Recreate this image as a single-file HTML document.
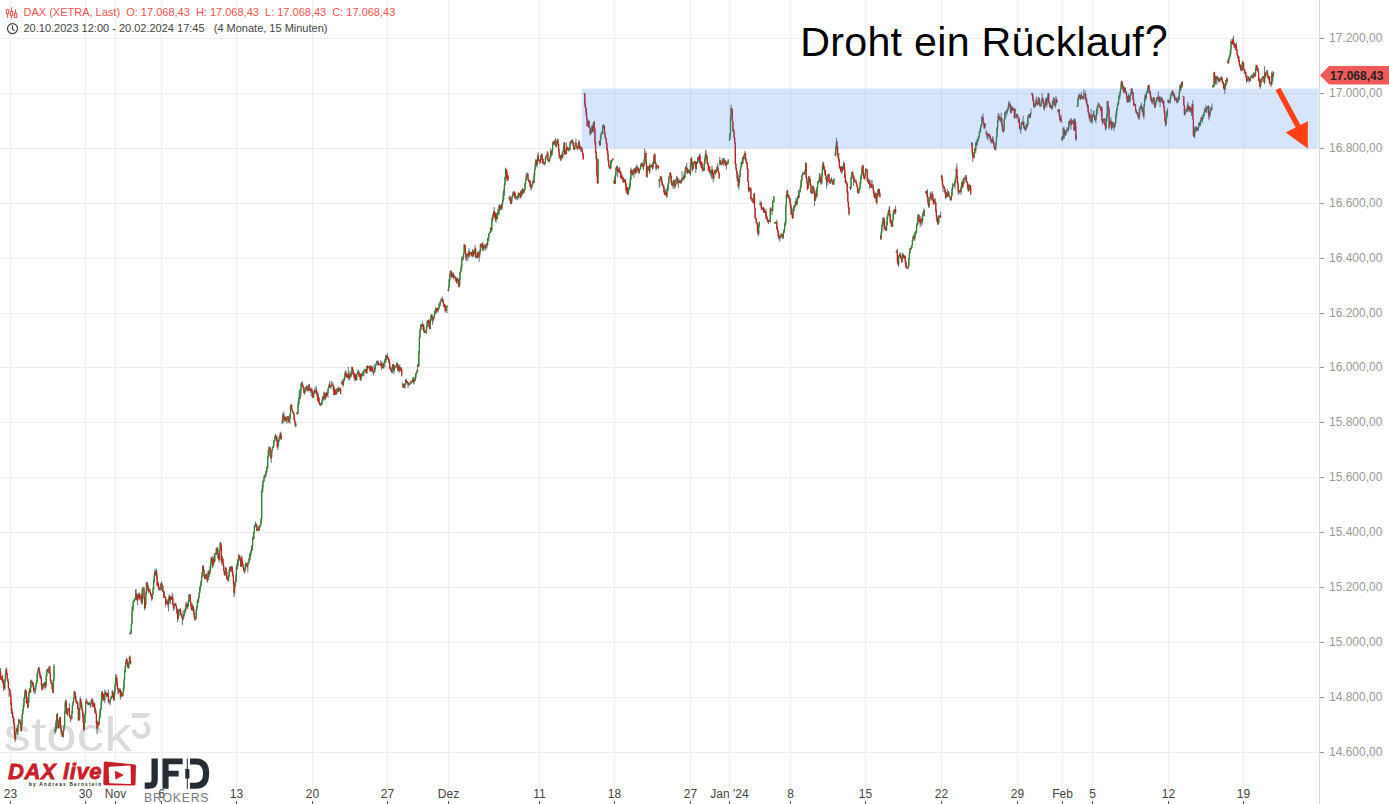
<!DOCTYPE html><html><head><meta charset="utf-8"><style>html,body{margin:0;padding:0;background:#fff;width:1389px;height:804px;overflow:hidden}svg{display:block}text{font-family:"Liberation Sans",sans-serif}</style></head><body><svg width="1389" height="804" viewBox="0 0 1389 804"><path d="M10.5 0V789M85.5 0V789M115.5 0V789M161.5 0V789M236.5 0V789M312.5 0V789M387.5 0V789M448.5 0V789M539.5 0V789M614.5 0V789M690.5 0V789M729.5 0V789M790.5 0V789M865.5 0V789M941.5 0V789M1017.5 0V789M1062.5 0V789M1092.5 0V789M1168.5 0V789M1243.5 0V789M0 38.5H1319M0 93.5H1319M0 148.5H1319M0 203.5H1319M0 258.5H1319M0 313.5H1319M0 367.5H1319M0 422.5H1319M0 477.5H1319M0 532.5H1319M0 587.5H1319M0 642.5H1319M0 697.5H1319M0 752.5H1319" stroke="#eeeeee" stroke-width="1" fill="none"/><text transform="translate(3.6 750.5) scale(1.12 1)" font-size="49" fill="#dadada">stock</text><path d="M131.9 713.1H150.3L146.6 717.9H131.9Z" fill="#dadada"/><path d="M134 729.4A7.1 7.1 0 1 0 144.1 723" stroke="#dadada" stroke-width="4.6" fill="none"/><path d="M0.00 669.9V675.5M0.60 668.1V679.5M1.20 677.8V680.1M1.80 676.2V680.5M2.40 674.8V682.9M3.00 678.6V684.5M3.60 680.3V691.0M4.20 684.9V689.7M4.80 679.3V688.6M5.40 672.9V681.3M6.00 668.6V675.2M6.60 667.5V673.3M7.20 672.7V680.3M7.80 678.1V682.3M8.40 681.2V688.7M9.00 687.8V696.7M9.60 689.1V691.5M10.20 689.8V696.6M10.80 692.9V705.6M11.40 701.7V714.0M12.00 708.1V714.4M12.60 712.3V717.9M13.20 715.7V721.8M13.80 718.2V724.8M14.40 722.3V735.4M15.00 731.8V742.2M15.60 732.6V739.9M16.20 727.7V733.6M16.80 728.2V731.4M17.40 727.8V734.8M18.00 724.4V735.1M18.60 718.8V725.2M19.20 719.1V720.5M19.80 720.1V723.0M20.40 722.2V724.6M21.00 718.7V731.2M21.60 723.6V731.6M22.20 713.8V725.2M22.80 708.9V714.6M23.40 703.2V710.9M24.00 697.6V707.5M24.60 691.4V699.1M25.20 689.7V697.8M25.80 689.0V693.0M26.40 691.0V703.6M27.00 699.9V703.6M27.60 696.9V708.2M28.20 701.7V708.2M28.80 692.2V702.5M29.40 688.4V693.5M30.00 688.0V693.2M30.60 679.7V692.9M31.20 680.4V682.5M31.80 679.5V687.7M32.40 682.4V684.7M33.00 681.9V686.7M33.60 684.8V692.0M34.20 690.9V693.9M34.80 688.1V690.5M35.40 686.4V693.4M36.00 683.1V689.8M36.60 680.1V684.1M37.20 673.4V682.8M37.80 669.8V676.5M38.40 667.0V670.8M39.00 666.6V672.6M39.60 669.6V675.2M40.20 672.7V678.1M40.80 676.6V679.4M41.40 675.5V686.6M42.00 684.8V690.6M42.60 684.0V689.8M43.20 682.9V688.2M43.80 683.6V685.1M44.40 682.0V685.0M45.00 682.3V689.7M45.60 681.3V687.9M46.20 673.8V686.2M46.80 669.1V676.0M47.40 668.9V671.0M48.00 668.4V672.2M48.60 668.2V673.3M49.20 666.2V668.6M49.80 665.8V674.0M50.40 673.1V681.2M51.00 679.7V684.0M51.60 682.8V684.4M52.20 682.1V689.5M52.80 689.0V693.0M53.40 678.5V693.5M54.00 664.2V681.3M55.00 727.4V734.3M55.60 723.3V731.8M56.20 719.5V731.5M56.80 713.9V722.9M57.40 713.0V721.8M58.00 719.3V728.2M58.60 724.8V728.6M59.20 718.9V727.4M59.80 717.0V719.3M60.40 716.6V728.6M61.00 725.3V734.4M61.60 729.3V732.3M62.20 731.0V736.9M62.80 732.8V736.7M63.40 729.0V737.6M64.00 725.1V731.6M64.60 711.1V727.3M65.20 701.2V713.7M65.80 699.0V705.3M66.40 700.8V713.8M67.00 707.7V715.1M67.60 710.0V716.2M68.20 709.6V711.3M68.80 708.1V710.8M69.40 703.4V717.5M70.00 714.9V718.0M70.60 717.5V722.3M71.20 718.7V719.5M71.80 711.1V718.8M72.40 705.1V713.7M73.00 701.3V705.9M73.60 697.8V702.8M74.20 690.8V698.9M74.80 691.2V694.8M75.40 692.3V699.2M76.00 696.1V702.6M76.60 702.1V704.1M77.20 700.5V703.0M77.80 702.3V709.4M78.40 707.5V720.3M79.00 717.8V720.9M79.60 708.2V719.7M80.20 696.4V708.6M80.80 698.6V703.5M81.40 701.6V707.5M82.00 704.5V711.1M82.60 710.2V717.2M83.20 711.4V722.7M83.80 721.7V730.5M84.40 722.5V730.5M85.00 713.4V723.1M85.60 701.2V715.2M86.20 698.6V703.8M86.80 698.9V702.9M87.40 702.3V704.4M88.00 703.3V705.6M88.60 702.3V705.0M89.20 701.7V704.8M89.80 703.3V704.6M90.40 704.4V707.8M91.00 700.2V706.0M91.60 698.4V703.6M92.20 698.5V702.0M92.80 698.8V707.2M93.40 703.3V707.5M94.00 702.9V706.4M94.60 702.6V712.8M95.20 707.8V710.6M95.80 709.7V714.1M96.40 713.2V724.0M97.00 723.3V734.1M97.60 720.4V730.2M98.20 722.4V725.7M98.80 721.6V726.2M99.40 716.1V724.4M100.00 708.6V718.5M100.60 708.3V714.9M101.20 699.3V709.7M101.80 691.1V703.3M102.40 691.1V699.5M103.00 693.1V698.0M103.60 694.0V700.8M104.20 699.3V700.3M104.80 689.5V703.3M105.40 691.5V695.0M106.00 691.4V694.9M106.60 693.6V696.8M107.20 692.5V697.2M107.80 693.0V695.8M108.40 689.5V702.3M109.00 700.2V703.9M109.60 700.3V702.6M110.20 699.2V705.3M110.80 697.7V699.8M111.40 696.1V698.8M112.00 691.1V697.3M112.60 690.1V697.5M113.20 691.8V699.0M113.80 696.5V701.2M114.40 690.7V700.5M115.00 682.5V694.5M115.60 673.9V685.6M116.20 677.0V680.9M116.80 674.5V686.1M117.40 681.4V689.7M118.00 687.0V694.2M118.60 688.5V694.0M119.20 688.5V692.5M119.80 688.3V692.3M120.40 688.7V699.5M121.00 692.4V696.8M121.60 690.8V694.5M122.20 693.7V697.0M122.80 693.0V696.5M123.40 686.4V693.5M124.00 679.3V690.3M124.60 670.3V679.8M125.20 665.4V672.2M125.80 660.6V666.2M126.40 657.7V663.7M127.00 659.0V664.4M127.60 662.2V667.5M128.20 664.5V668.8M128.80 662.1V668.1M129.40 655.8V663.4M130.00 655.6V663.2M130.60 660.2V664.5M130.20 632.5V634.6M130.80 630.3V634.6M131.40 623.1V633.0M132.00 606.4V624.2M132.60 607.0V612.0M133.20 600.3V610.2M133.80 599.7V602.5M134.40 598.7V601.7M135.00 597.2V600.5M135.60 589.4V599.8M136.20 589.1V597.3M136.80 592.7V600.6M137.40 594.7V605.2M138.00 595.1V600.8M138.60 593.6V598.2M139.20 592.2V600.1M139.80 597.4V598.2M140.40 597.8V599.6M141.00 594.4V602.8M141.60 593.8V603.9M142.20 587.9V605.0M142.80 586.4V590.1M143.40 587.8V589.9M144.00 587.0V599.7M144.60 596.2V610.4M145.20 602.3V608.6M145.80 591.7V605.0M146.40 581.9V594.2M147.00 582.8V585.0M147.60 581.9V591.4M148.20 585.3V590.7M148.80 588.5V593.6M149.40 589.9V591.9M150.00 588.3V592.7M150.60 592.1V595.5M151.20 593.5V597.1M151.80 594.1V601.0M152.40 594.0V599.4M153.00 587.0V594.8M153.60 579.7V590.2M154.20 573.9V582.6M154.80 569.5V576.3M155.40 570.4V575.4M156.00 568.4V575.0M156.60 569.7V578.4M157.20 574.1V586.3M157.80 582.1V585.6M158.40 582.2V589.0M159.00 585.7V590.7M159.60 588.6V590.5M160.20 586.5V589.6M160.80 583.6V590.8M161.40 581.3V584.6M162.00 582.8V590.1M162.60 589.0V592.0M163.20 585.8V592.4M163.80 591.0V597.9M164.40 591.4V597.8M165.00 596.5V597.3M165.60 597.0V606.4M166.20 599.4V604.1M166.80 599.7V603.9M167.40 600.5V605.0M168.00 599.1V607.4M168.60 598.2V611.3M169.20 594.3V600.9M169.80 595.4V603.1M170.40 597.0V603.9M171.00 595.8V598.5M171.60 596.8V599.7M172.20 592.6V599.8M172.80 594.9V605.0M173.40 603.7V610.6M174.00 603.5V610.4M174.60 603.3V606.9M175.20 603.3V605.8M175.80 602.4V605.9M176.40 605.1V613.7M177.00 607.8V612.8M177.60 608.8V622.3M178.20 615.3V619.4M178.80 609.4V616.0M179.40 609.5V611.8M180.00 609.5V611.5M180.60 608.1V614.8M181.20 613.3V616.0M181.80 613.7V617.7M182.40 616.8V625.2M183.00 610.7V620.5M183.60 614.2V618.5M184.20 609.1V616.3M184.80 611.4V613.1M185.40 607.5V612.5M186.00 601.9V610.9M186.60 603.8V608.0M187.20 602.9V609.4M187.80 604.6V608.8M188.40 600.0V606.1M189.00 594.6V601.8M189.60 594.1V595.9M190.20 594.0V601.9M190.80 600.8V606.7M191.40 603.7V610.0M192.00 605.8V611.3M192.60 603.5V610.8M193.20 606.0V611.5M193.80 608.0V615.1M194.40 613.1V620.5M195.00 615.3V620.6M195.60 616.0V620.3M196.20 608.5V619.4M196.80 605.7V610.7M197.40 599.7V607.8M198.00 599.0V601.2M198.60 596.5V603.0M199.20 591.9V597.8M199.80 586.6V593.6M200.40 584.0V590.0M201.00 580.7V586.9M201.60 575.0V583.8M202.20 571.4V577.0M202.80 565.5V573.2M203.40 565.2V571.2M204.00 569.2V577.6M204.60 574.5V579.1M205.20 578.1V578.7M205.80 574.2V579.4M206.40 573.1V576.2M207.00 574.2V581.4M207.60 578.7V582.7M208.20 570.4V580.4M208.80 570.4V574.9M209.40 572.3V577.0M210.00 566.0V573.7M210.60 562.5V571.2M211.20 556.6V563.2M211.80 557.6V561.6M212.40 557.9V568.2M213.00 555.5V566.7M213.60 557.2V565.8M214.20 559.4V563.3M214.80 552.9V561.7M215.40 552.9V554.4M216.00 548.0V554.2M216.60 547.5V555.3M217.20 548.3V550.3M217.80 546.8V558.4M218.40 553.2V558.7M219.00 557.6V562.7M219.60 550.0V560.2M220.20 541.9V550.7M220.80 542.0V547.1M221.40 545.4V564.5M222.00 558.6V561.9M222.60 555.9V562.4M223.20 558.5V566.1M223.80 565.1V572.0M224.40 570.9V575.9M225.00 571.2V575.7M225.60 567.5V571.7M226.20 567.1V576.2M226.80 571.5V579.5M227.40 576.2V579.9M228.00 578.7V581.3M228.60 575.5V581.8M229.20 568.4V577.3M229.80 566.8V569.9M230.40 566.3V571.8M231.00 566.9V571.6M231.60 566.1V568.7M232.20 566.3V573.4M232.80 571.1V576.5M233.40 574.9V584.9M234.00 581.9V597.3M234.60 584.9V594.6M235.20 580.9V587.1M235.80 574.3V581.9M236.40 566.7V581.7M237.00 563.8V568.1M237.60 559.5V569.8M238.20 558.5V566.5M238.80 553.8V561.3M239.40 555.1V558.0M240.00 557.4V560.7M240.60 559.1V566.6M241.20 555.2V567.1M241.80 556.9V561.0M242.40 560.8V565.5M243.00 563.4V568.3M243.60 566.8V571.2M244.20 569.5V572.7M244.80 567.6V573.9M245.40 562.5V570.7M246.00 562.6V565.6M246.60 563.1V566.8M247.20 565.5V568.6M247.80 561.7V572.3M248.40 562.3V563.7M249.00 558.0V563.8M249.60 553.1V558.5M250.20 554.5V560.4M250.80 550.8V556.3M251.40 546.2V552.6M252.00 545.2V549.7M252.60 536.7V550.9M253.20 536.3V540.1M253.80 531.7V539.5M254.40 524.5V533.3M255.00 525.7V527.9M255.60 521.5V525.8M256.20 523.7V526.7M256.80 523.8V531.4M257.50 529.4V531.1M258.10 526.9V530.0M258.70 526.0V530.8M259.30 525.9V531.1M259.90 525.0V527.9M260.50 522.7V526.0M261.10 517.7V524.5M261.70 490.4V519.7M262.30 484.5V492.7M262.90 480.7V491.6M263.50 479.7V482.0M264.10 475.3V482.1M264.70 474.5V478.4M265.30 474.8V478.1M265.90 471.0V476.3M266.50 467.0V473.5M267.10 466.2V472.3M267.70 455.6V468.5M268.30 449.2V457.6M268.90 446.0V453.7M269.50 447.6V450.0M270.10 447.0V456.7M270.70 454.3V459.1M271.30 451.8V462.8M271.90 448.7V457.2M272.50 447.3V450.2M273.10 445.7V448.0M273.70 440.7V447.8M274.30 439.8V443.1M274.90 435.4V441.3M275.50 434.0V439.1M276.10 435.8V439.0M276.70 435.4V441.4M277.30 438.9V447.5M277.90 444.4V450.1M278.50 440.3V445.5M279.10 436.9V441.7M279.70 434.6V438.9M280.30 431.6V437.7M280.90 432.2V439.8M281.50 435.8V439.7M282.10 420.1V424.1M282.70 413.0V423.4M283.30 413.4V417.9M283.90 411.4V423.1M284.50 416.7V419.9M285.10 416.4V421.5M285.70 417.2V421.6M286.30 418.0V420.6M286.90 416.3V423.8M287.50 416.0V417.0M288.10 416.1V422.5M288.70 420.6V422.6M289.30 418.5V422.2M289.90 414.0V423.8M290.50 405.5V418.7M291.10 403.5V406.9M291.70 405.1V410.0M292.30 409.2V412.9M292.90 410.9V413.0M293.50 411.9V414.7M294.10 413.0V420.1M294.70 418.0V422.5M295.30 421.5V426.8M295.90 422.3V427.2M296.80 412.0V413.7M297.40 413.4V415.0M298.00 401.2V413.7M298.60 398.4V405.4M299.20 389.5V403.6M299.80 391.2V397.0M300.40 389.2V399.1M301.00 382.8V395.9M301.60 382.2V386.0M302.20 381.2V386.1M302.80 384.1V386.8M303.40 385.4V389.5M304.00 387.0V393.6M304.60 389.6V394.8M305.20 387.8V391.3M305.80 386.7V392.4M306.40 385.3V389.4M307.00 385.9V390.6M307.60 387.8V391.4M308.20 385.5V391.4M308.80 383.9V387.3M309.40 383.9V391.0M310.00 387.8V391.1M310.60 389.4V392.8M311.20 388.6V396.0M311.80 387.4V391.9M312.40 390.7V397.8M313.00 393.2V397.6M313.60 392.1V398.3M314.20 390.2V394.2M314.80 387.6V392.6M315.40 390.8V393.6M316.00 386.1V392.8M316.60 387.7V394.1M317.20 392.9V396.8M317.80 391.8V401.2M318.40 393.6V403.3M319.00 396.9V403.4M319.60 403.2V405.5M320.20 403.1V404.7M320.80 402.8V406.4M321.40 402.8V405.3M322.00 399.1V405.2M322.60 396.7V401.5M323.20 396.3V399.9M323.80 391.6V400.2M324.40 392.8V394.3M325.00 392.3V400.4M325.60 394.1V399.6M326.20 391.7V397.0M326.80 392.5V396.2M327.40 392.7V396.2M328.00 388.6V398.0M328.60 386.3V389.9M329.20 383.4V387.9M329.80 380.7V387.1M330.40 386.5V388.6M331.00 384.6V386.5M331.60 381.2V387.8M332.20 383.8V385.8M332.80 382.2V386.1M333.40 384.6V390.7M334.00 390.0V395.1M334.60 386.7V395.2M335.20 389.5V395.2M335.80 392.4V394.6M336.40 388.0V394.9M337.00 390.5V393.8M337.60 388.5V391.8M338.20 386.6V391.9M338.80 388.0V392.3M339.40 387.8V390.8M340.00 387.2V389.9M340.60 388.1V394.1M341.70 381.5V384.4M342.30 379.3V383.9M342.90 380.1V387.3M343.50 379.4V385.4M344.10 377.4V381.4M344.70 373.4V380.6M345.30 370.5V376.9M345.90 370.7V376.0M346.50 373.5V377.8M347.10 374.5V378.0M347.70 374.4V378.0M348.30 366.9V378.9M348.90 373.0V380.8M349.50 376.1V379.4M350.10 371.1V378.5M350.70 373.8V376.5M351.30 372.4V376.8M351.90 366.4V374.1M352.50 367.0V370.5M353.10 369.6V375.3M353.70 371.6V377.0M354.30 372.9V379.4M354.90 374.8V381.2M355.50 374.6V380.8M356.10 374.1V380.8M356.70 373.6V380.0M357.30 372.0V374.7M357.90 369.6V374.4M358.50 369.7V373.6M359.10 371.3V377.0M359.70 373.9V376.8M360.30 373.3V380.4M360.90 376.4V381.3M361.50 373.7V378.1M362.10 372.1V376.3M362.70 373.6V375.6M363.30 371.2V375.5M363.90 370.3V376.4M364.50 368.8V371.1M365.10 369.4V373.0M365.70 369.1V371.4M366.30 368.9V373.6M366.90 366.0V374.0M367.50 365.3V369.3M368.10 366.5V368.5M368.70 366.2V368.4M369.30 365.5V367.5M369.90 366.4V371.4M370.50 365.4V371.7M371.10 366.8V371.3M371.70 365.4V371.5M372.30 366.2V371.7M372.90 368.6V373.5M373.50 371.4V375.4M374.10 364.4V372.9M374.70 367.2V372.7M375.30 365.8V370.0M375.90 363.4V366.1M376.50 361.2V364.3M377.10 360.5V363.8M377.70 360.3V365.2M378.30 361.4V365.5M378.90 363.3V365.2M379.50 363.6V365.2M380.10 363.5V365.4M380.70 360.2V365.4M381.30 363.0V370.4M381.90 361.2V367.6M382.50 364.2V368.1M383.10 365.7V368.7M383.70 363.2V368.7M384.30 361.0V363.8M384.90 358.9V367.3M385.50 354.9V361.3M386.10 356.4V362.9M386.70 355.0V360.0M387.30 352.9V359.1M387.90 356.4V359.5M388.50 357.6V362.4M389.10 359.0V363.1M389.70 362.2V368.8M390.30 366.9V370.5M390.90 367.5V371.6M391.50 368.9V372.7M392.10 366.0V373.3M392.70 364.1V372.8M393.30 364.3V371.2M393.90 367.1V374.2M394.50 364.8V371.3M395.10 367.0V368.5M395.70 365.9V367.3M396.30 364.0V367.4M396.90 361.6V366.0M397.50 363.2V370.8M398.10 365.3V369.6M398.70 364.3V371.7M399.30 365.7V372.6M399.90 365.0V368.5M400.50 367.3V370.6M401.10 368.3V371.9M401.70 367.3V376.5M402.60 382.4V387.6M403.20 384.4V384.8M403.80 383.5V387.7M404.40 384.5V387.6M405.00 382.9V388.7M405.60 379.1V385.3M406.20 379.0V383.2M406.80 381.0V382.7M407.40 381.1V384.8M408.00 382.8V388.2M408.60 382.3V385.6M409.20 382.2V385.4M409.80 384.5V385.1M410.40 381.3V384.4M411.00 380.8V383.8M411.60 381.3V382.4M412.20 379.9V382.5M412.80 376.8V381.2M413.40 377.8V383.9M414.00 376.8V384.4M414.60 379.7V380.7M415.20 376.2V381.0M415.80 372.6V378.6M416.40 373.0V374.7M417.00 369.7V373.3M417.60 364.0V371.2M418.20 364.8V366.7M418.80 350.8V366.9M419.40 335.8V354.0M420.00 328.4V338.2M420.60 324.3V330.9M421.20 324.7V326.3M421.80 323.8V329.2M422.40 321.7V326.8M423.00 324.5V329.4M423.60 324.0V331.4M424.20 327.0V333.0M424.80 331.0V332.8M425.40 331.8V333.0M426.00 329.3V332.6M426.60 325.4V334.1M427.20 320.4V327.7M427.80 320.0V324.8M428.40 319.5V322.8M429.00 319.8V327.4M429.60 323.8V329.5M430.20 319.3V329.0M430.80 314.8V321.5M431.40 314.2V318.6M432.00 314.1V320.8M432.60 317.6V324.9M433.20 316.5V322.1M433.80 316.5V317.7M434.40 310.7V318.8M435.00 310.4V315.0M435.60 307.2V312.8M436.20 309.2V314.0M436.80 307.8V312.5M437.40 308.0V311.4M438.00 307.5V312.5M438.60 307.2V308.6M439.20 301.9V309.0M439.80 303.9V306.3M440.40 300.7V305.9M441.00 298.2V301.8M441.60 298.5V300.5M442.20 296.2V300.4M442.80 298.2V302.9M443.40 299.6V305.1M444.00 303.8V307.3M444.60 303.8V307.4M445.20 304.5V311.6M445.80 307.2V312.9M446.40 307.4V309.9M447.00 304.9V313.1M448.00 289.4V290.7M448.60 286.1V291.5M449.20 278.9V287.5M449.80 272.8V282.0M450.40 270.3V275.8M451.00 270.5V273.2M451.60 271.4V277.8M452.20 274.9V277.7M452.80 273.2V275.7M453.40 272.4V279.4M454.00 275.2V277.4M454.60 275.1V277.6M455.20 276.5V281.5M455.80 276.9V279.7M456.40 279.2V284.0M457.00 277.2V282.1M457.60 277.8V280.8M458.20 279.1V284.8M458.80 280.0V287.5M459.40 277.7V287.2M460.00 271.8V284.7M460.60 269.7V273.9M461.20 264.5V271.7M461.80 256.4V269.6M462.40 257.3V260.5M463.00 255.4V260.7M463.60 252.4V258.2M464.20 244.2V253.0M464.80 244.5V249.2M465.40 245.5V254.6M466.00 253.4V261.3M466.60 253.1V259.3M467.20 254.5V256.0M467.80 253.7V261.2M468.40 251.1V257.2M469.00 248.1V256.4M469.60 250.4V257.6M470.20 252.8V254.9M470.80 252.2V253.7M471.40 251.9V256.1M472.00 254.8V257.2M472.60 249.1V256.6M473.20 250.4V257.4M473.80 252.1V256.7M474.40 249.6V254.3M475.00 244.7V251.4M475.60 247.7V258.2M476.20 255.0V257.7M476.80 255.2V258.7M477.40 251.6V258.2M478.00 251.7V257.2M478.60 253.3V257.8M479.20 252.5V261.8M479.80 249.6V257.2M480.40 243.6V252.6M481.00 243.9V246.5M481.60 244.1V247.7M482.20 243.1V251.4M482.80 242.0V249.4M483.40 245.9V251.0M484.00 245.8V248.6M484.60 244.6V248.7M485.20 244.4V250.4M485.80 245.3V250.5M486.40 243.2V245.8M487.00 242.4V248.3M487.60 238.2V245.7M488.20 237.1V240.6M488.80 233.3V241.6M489.40 232.4V234.2M490.00 231.0V233.2M490.60 227.2V232.7M491.20 227.5V230.7M491.80 218.1V232.0M492.40 216.2V222.4M493.00 213.2V220.2M493.60 210.9V215.1M494.20 207.0V216.9M494.80 212.1V218.1M495.40 212.2V221.6M496.00 216.5V222.8M496.60 213.0V219.6M497.20 212.9V219.6M497.80 208.9V216.3M498.40 211.9V214.6M499.00 204.8V214.9M499.60 204.1V211.6M500.20 205.0V210.1M500.80 205.3V209.2M501.40 204.1V209.8M502.00 203.5V209.8M502.60 199.9V205.3M503.20 191.8V201.8M503.80 189.4V199.7M504.40 182.9V195.4M505.00 176.4V185.4M505.60 167.6V178.8M506.20 169.3V172.1M506.80 170.4V181.4M507.40 173.1V178.6M508.00 174.9V180.6M508.80 198.2V198.6M509.40 195.7V200.9M510.00 196.0V199.6M510.60 197.5V204.1M511.20 200.1V203.8M511.80 196.1V203.9M512.40 194.8V197.5M513.00 191.4V196.2M513.60 191.7V195.9M514.20 190.8V195.5M514.80 191.9V198.8M515.40 193.8V198.5M516.00 196.6V200.1M516.60 196.5V197.9M517.20 195.4V199.6M517.80 195.6V200.2M518.40 192.2V198.3M519.00 192.8V194.1M519.60 192.9V195.6M520.20 194.8V198.7M520.80 190.2V197.9M521.40 190.7V196.6M522.00 188.6V195.3M522.60 187.8V193.3M523.20 189.3V193.5M523.80 189.4V193.6M524.40 188.8V191.4M525.00 182.8V190.1M525.60 179.5V185.0M526.20 172.6V180.3M526.80 175.4V177.7M527.40 172.5V176.4M528.00 172.9V180.7M528.60 178.5V181.9M529.20 181.2V181.8M529.80 180.5V185.9M530.40 180.5V188.3M531.00 186.2V190.6M531.60 184.2V188.9M532.20 183.5V186.7M532.80 179.8V185.1M533.40 181.3V183.2M534.00 172.5V183.3M534.60 169.1V177.8M535.20 162.9V170.4M535.80 158.9V165.1M536.40 159.5V165.8M537.00 160.7V167.6M537.60 154.4V164.6M538.20 152.0V160.4M538.80 159.7V161.1M539.40 159.7V161.3M540.00 158.9V164.4M540.60 155.5V163.1M541.20 154.1V160.0M541.80 153.1V159.4M542.40 154.3V163.3M543.00 158.5V164.3M543.60 163.0V164.0M544.20 161.7V165.8M544.80 162.7V164.3M545.40 155.5V163.5M546.00 155.9V159.5M546.60 155.8V157.1M547.20 151.1V157.2M547.80 151.8V161.1M548.40 159.5V161.5M549.00 159.2V162.9M549.60 158.2V161.8M550.20 154.6V159.1M550.80 148.2V157.6M551.40 150.3V156.4M552.00 149.6V155.8M552.60 142.2V151.8M553.20 140.7V144.6M553.80 141.6V145.2M554.40 139.7V143.5M555.00 141.5V145.7M555.60 137.8V146.9M556.20 144.6V146.5M556.80 140.4V147.6M557.40 139.2V143.4M558.00 139.0V145.4M558.60 143.7V152.6M559.20 149.0V159.0M559.80 156.1V157.7M560.40 155.0V161.2M561.00 158.0V159.2M561.60 153.5V160.3M562.20 154.5V157.8M562.80 151.0V158.1M563.40 146.0V152.3M564.00 142.2V149.6M564.60 142.2V154.4M565.20 150.6V155.0M565.80 149.7V154.3M566.40 142.2V154.0M567.00 146.9V151.0M567.60 146.4V150.1M568.20 147.6V151.4M568.80 147.8V151.5M569.40 147.5V149.5M570.00 141.9V150.8M570.60 140.9V142.6M571.20 140.5V143.3M571.80 139.6V143.8M572.40 139.3V142.6M573.00 141.1V146.3M573.60 142.5V149.3M574.20 146.9V150.1M574.80 145.6V149.8M575.40 141.8V145.9M576.00 138.5V146.1M576.60 144.7V147.2M577.20 146.1V150.4M577.80 145.7V149.1M578.40 141.6V148.0M579.00 140.1V144.4M579.60 140.7V150.1M580.20 146.1V148.3M580.80 145.8V152.2M581.40 147.0V149.6M582.00 147.4V152.1M582.60 150.1V155.3M583.20 153.4V159.8M584.20 93.1V94.6M584.80 92.7V106.5M585.40 102.3V108.6M586.00 106.7V116.2M586.60 109.4V119.6M587.20 118.2V126.7M587.80 122.8V126.6M588.40 120.2V126.5M589.00 120.5V127.8M589.60 126.1V127.8M590.20 127.5V135.7M590.80 132.0V134.4M591.40 127.5V132.5M592.00 124.6V129.7M592.60 125.1V132.0M593.20 122.7V133.2M593.80 121.6V128.0M594.40 120.7V129.7M595.00 127.5V145.1M595.60 142.3V153.5M596.20 151.4V160.0M596.80 155.7V176.5M597.40 173.6V183.9M598.00 158.4V183.8M599.10 141.3V142.8M599.70 141.3V145.4M600.30 139.6V145.7M600.90 133.4V139.6M601.50 131.2V134.4M602.10 132.8V134.4M602.70 125.1V134.4M603.30 124.0V129.0M603.90 124.4V128.1M604.50 125.7V134.5M605.10 132.2V138.9M605.70 136.8V139.1M606.30 138.6V144.2M606.90 142.7V150.9M607.50 147.3V154.8M608.10 150.6V161.7M608.70 158.9V166.1M609.30 165.2V168.5M609.90 166.8V168.3M610.50 160.4V169.2M611.10 160.8V168.0M611.70 160.0V162.8M612.30 158.7V160.4M612.90 158.1V160.6M614.10 179.3V183.7M614.70 176.6V183.9M615.30 174.4V183.8M615.90 167.5V176.4M616.50 166.1V170.5M617.10 165.3V170.3M617.70 166.3V177.4M618.30 170.4V172.2M618.90 167.8V171.1M619.50 167.1V173.3M620.10 172.0V173.9M620.70 170.9V178.3M621.30 175.3V178.8M621.90 173.9V179.3M622.50 177.8V179.5M623.10 177.2V182.8M623.70 177.1V182.7M624.30 178.9V182.2M624.90 179.4V182.6M625.50 179.1V185.8M626.10 182.9V193.0M626.70 186.2V190.9M627.30 187.2V194.7M627.90 192.7V195.5M628.50 187.5V194.6M629.10 187.0V189.4M629.70 182.9V190.2M630.30 177.3V187.4M630.90 167.5V180.1M631.50 169.3V173.7M632.10 170.7V175.8M632.70 170.0V175.3M633.30 172.8V174.9M633.90 168.7V178.1M634.50 168.1V172.7M635.10 168.3V172.3M635.70 166.9V174.6M636.30 165.6V173.1M636.90 164.2V168.9M637.50 167.2V171.0M638.10 166.4V173.0M638.70 167.9V173.6M639.30 169.5V173.6M639.90 168.4V170.5M640.50 165.2V169.6M641.10 163.4V167.0M641.70 162.3V166.1M642.30 163.0V166.2M642.90 162.8V168.5M643.50 165.1V170.2M644.10 157.8V166.8M644.70 148.5V159.7M645.30 153.0V154.4M645.90 151.1V164.6M646.50 160.6V177.1M647.10 169.1V177.7M647.70 165.6V172.3M648.30 166.1V167.5M648.90 166.4V170.8M649.50 163.4V173.7M650.10 165.0V172.3M650.70 165.3V167.9M651.30 166.2V167.5M651.90 164.1V166.9M652.50 163.1V169.8M653.10 162.1V169.1M653.70 155.7V163.8M654.30 153.8V163.9M654.90 153.4V163.0M655.50 161.5V164.0M656.10 162.8V170.8M656.70 166.0V169.0M657.30 165.0V167.7M657.90 165.1V167.7M658.50 165.7V169.3M659.20 178.9V188.0M659.80 179.0V186.6M660.40 176.0V180.0M661.00 176.2V178.8M661.60 177.0V183.0M662.20 180.8V185.7M662.80 183.1V185.9M663.40 184.5V188.9M664.00 185.4V193.2M664.60 191.0V195.3M665.20 189.0V195.0M665.80 189.9V194.6M666.40 193.8V197.4M667.00 187.9V197.4M667.60 185.8V191.1M668.20 182.6V190.7M668.80 176.0V183.8M669.40 177.4V178.8M670.00 172.4V179.2M670.60 172.0V176.5M671.20 175.3V183.2M671.80 181.8V185.6M672.40 183.6V186.3M673.00 180.5V188.7M673.60 179.7V182.6M674.20 180.0V187.3M674.80 184.5V189.0M675.40 183.3V186.9M676.00 178.4V185.3M676.60 175.9V181.2M677.20 177.9V179.5M677.80 176.7V184.4M678.40 180.5V187.8M679.00 180.9V182.6M679.60 179.5V182.8M680.20 179.7V183.8M680.80 180.4V183.2M681.40 178.2V183.4M682.00 171.2V180.8M682.60 177.5V180.7M683.20 177.1V179.6M683.80 174.6V180.5M684.40 173.8V178.6M685.00 168.3V178.0M685.60 165.9V172.2M686.20 166.9V168.9M686.80 162.8V172.8M687.40 167.8V174.2M688.00 168.6V173.0M688.60 169.5V171.7M689.20 169.5V173.7M689.80 171.7V173.9M690.40 162.4V175.8M691.00 157.9V167.0M691.60 156.7V162.5M692.20 161.2V172.1M692.80 165.9V169.9M693.40 161.9V168.8M694.00 162.1V165.8M694.60 161.1V164.2M695.20 161.1V162.4M695.80 161.4V173.1M696.40 161.8V169.7M697.00 161.5V163.3M697.60 156.9V164.1M698.20 157.4V161.2M698.80 156.1V161.9M699.40 154.7V163.5M700.00 153.2V164.0M700.60 160.9V166.6M701.20 161.5V168.2M701.80 161.7V168.3M702.40 164.5V171.7M703.00 167.6V170.2M703.60 167.3V171.2M704.20 162.7V171.0M704.80 156.9V164.4M705.40 150.5V161.4M706.00 149.8V156.4M706.60 154.4V159.4M707.20 155.7V163.6M707.80 161.7V165.7M708.40 163.1V171.5M709.00 166.2V172.2M709.60 166.5V172.7M710.20 170.0V175.2M710.80 169.4V175.7M711.40 170.3V177.5M712.00 165.6V179.0M712.60 169.1V175.2M713.20 172.1V182.2M713.80 171.7V178.8M714.40 170.2V173.1M715.00 170.0V173.3M715.60 170.4V175.2M716.20 168.4V173.0M716.80 166.4V170.3M717.40 163.3V171.1M718.00 165.0V172.0M718.60 171.1V173.5M719.20 172.7V179.1M719.80 156.8V165.4M720.40 160.5V164.2M721.00 162.2V165.1M721.60 163.0V164.6M722.20 158.4V164.9M722.80 158.4V162.5M723.40 158.1V165.8M724.00 160.7V163.1M724.60 158.1V164.5M725.20 160.0V164.7M725.80 160.1V166.3M726.40 162.2V169.6M727.00 161.6V163.2M727.60 162.5V164.7M728.20 158.9V163.5M729.30 139.5V140.8M729.90 133.0V139.7M730.50 116.4V135.5M731.10 104.7V118.5M731.70 108.2V109.5M732.30 109.0V121.3M732.90 121.2V131.5M733.50 129.0V132.5M734.10 129.1V138.3M734.70 137.6V143.7M735.30 142.7V164.3M735.90 163.1V170.2M736.50 167.8V173.5M737.10 171.3V181.3M737.70 177.4V181.1M738.30 174.4V187.7M738.90 182.5V190.0M739.50 176.0V183.0M740.10 169.8V177.1M740.70 166.7V170.1M741.30 162.3V167.2M741.90 161.0V165.9M742.50 157.2V164.1M743.10 156.5V164.0M743.70 154.6V160.8M744.30 155.3V159.5M744.90 150.8V156.3M745.50 152.6V159.2M746.10 157.9V163.1M746.70 161.8V164.1M747.30 162.4V170.0M747.90 168.0V182.1M748.50 181.5V192.1M749.10 187.6V192.3M749.70 187.3V190.6M750.30 188.4V190.8M750.90 187.5V199.2M751.50 197.7V201.5M752.10 197.9V200.5M752.70 199.6V202.5M753.30 200.9V203.1M753.90 193.8V203.6M754.50 192.7V208.9M755.10 207.8V218.5M755.70 217.0V219.4M756.30 218.1V223.1M756.90 222.2V224.7M757.50 222.5V233.0M758.10 230.7V235.8M758.70 224.7V235.5M759.30 221.5V226.9M760.10 200.5V206.0M760.70 202.9V203.5M761.30 201.5V210.2M761.90 207.5V209.7M762.50 207.1V210.0M763.10 206.6V209.4M763.70 207.3V212.6M764.30 208.3V213.2M764.90 209.5V212.8M765.50 211.5V215.9M766.10 209.3V219.6M766.70 215.4V219.1M767.30 216.2V222.3M767.90 219.5V222.5M768.50 219.4V224.2M769.10 220.3V221.5M769.70 220.8V221.9M770.30 207.7V222.5M770.90 207.0V213.6M771.50 209.6V211.0M772.10 208.4V215.0M772.70 200.2V211.1M773.30 200.9V202.1M773.90 196.2V203.0M775.00 221.7V223.9M775.60 221.8V223.1M776.20 222.1V223.2M776.80 219.7V229.9M777.40 226.6V230.6M778.00 229.6V237.1M778.60 231.1V238.7M779.20 235.0V239.7M779.80 235.5V241.7M780.40 236.5V238.5M781.00 233.0V237.6M781.60 233.8V236.0M782.20 233.8V237.9M782.80 234.9V239.1M783.40 231.5V238.7M784.00 228.9V233.4M784.60 223.3V232.5M785.20 221.1V226.4M785.80 204.1V224.7M786.40 194.0V205.5M787.00 190.9V196.6M787.60 189.5V197.7M788.20 194.5V197.6M788.80 194.3V198.5M789.40 196.7V199.5M790.00 198.9V206.5M790.60 198.0V209.9M791.20 205.3V215.1M791.80 210.3V214.7M792.40 212.9V219.1M793.00 208.2V218.7M793.60 206.3V211.0M794.20 205.2V211.8M794.80 204.7V208.3M795.40 200.9V206.8M796.00 197.7V203.4M796.60 199.2V205.4M797.20 197.6V204.8M797.80 195.6V200.7M798.40 189.8V198.2M799.00 192.7V198.0M799.60 190.6V193.1M800.20 186.8V192.2M800.80 180.4V189.3M801.40 179.2V186.1M802.00 174.8V180.9M802.60 172.0V175.6M803.20 172.9V174.4M803.80 172.5V174.7M804.40 171.6V175.1M805.00 169.6V174.4M805.60 162.2V171.5M806.20 163.0V178.6M806.80 177.1V183.1M807.40 181.4V190.5M808.00 183.6V189.1M808.60 175.7V187.3M809.20 176.7V179.9M809.80 176.3V182.8M810.40 178.9V186.0M811.00 184.0V193.3M811.60 191.6V194.2M812.20 190.6V193.4M812.80 185.4V192.5M813.40 186.1V188.7M814.00 187.8V194.3M814.60 191.7V206.0M815.20 195.1V201.1M815.80 190.5V199.4M816.40 189.0V198.2M817.00 187.0V196.8M817.60 181.1V188.3M818.20 180.9V183.6M818.80 179.9V182.2M819.40 173.0V182.1M820.00 174.0V178.6M820.60 177.1V184.5M821.20 181.3V182.8M821.80 173.5V184.3M822.40 165.4V176.6M823.00 161.4V167.5M823.60 162.2V170.0M824.20 166.0V169.6M824.80 166.8V175.0M825.40 170.0V175.8M826.00 174.5V180.2M826.60 178.0V188.6M827.20 178.8V183.1M827.80 174.4V185.2M828.40 174.1V177.0M829.00 173.6V181.6M829.60 180.3V183.3M830.20 181.8V183.7M830.80 178.8V184.1M831.40 177.1V181.2M832.00 179.5V182.2M832.60 180.6V184.5M833.20 183.7V184.5M833.80 178.0V184.9M834.40 179.0V180.7M835.20 151.8V155.7M835.80 145.4V156.6M836.40 137.6V149.8M837.00 140.8V148.8M837.60 146.1V154.4M838.20 153.4V159.1M838.80 153.0V162.2M839.40 159.3V168.5M840.00 166.0V168.8M840.60 166.4V172.1M841.20 167.2V172.8M841.80 165.7V174.4M842.40 166.7V172.1M843.00 166.1V168.9M843.60 161.6V170.0M844.20 163.2V169.9M844.80 166.9V177.9M845.40 174.1V183.5M846.00 179.4V183.1M846.60 180.9V185.7M847.20 183.0V193.9M847.80 190.6V202.3M848.40 201.7V209.0M849.00 207.2V215.7M849.90 186.9V188.0M850.50 186.8V190.1M851.10 176.9V188.8M851.70 172.2V179.2M852.30 172.0V174.2M852.90 170.9V179.0M853.50 175.8V185.9M854.10 175.6V180.4M854.70 179.1V182.3M855.30 180.8V182.8M855.90 178.9V183.5M856.50 181.5V184.6M857.10 184.5V187.3M857.70 186.2V193.4M858.30 189.4V193.2M858.90 188.6V193.8M859.50 187.4V190.8M860.10 181.5V189.3M860.70 176.3V185.1M861.30 172.7V179.5M861.90 165.9V176.6M862.50 165.7V168.8M863.10 164.5V174.2M863.70 171.5V178.6M864.30 175.7V179.7M864.90 175.3V179.1M865.50 168.3V175.8M866.10 168.6V171.9M866.70 169.3V172.1M867.30 168.8V181.5M867.90 180.4V182.3M868.50 178.3V184.1M869.10 180.0V183.8M869.70 179.7V188.8M870.30 184.4V187.8M870.90 179.7V187.9M871.50 183.7V187.9M872.10 180.0V186.6M872.70 185.7V188.3M873.30 184.2V193.4M873.90 190.7V196.7M874.50 193.8V198.1M875.10 191.8V199.0M875.70 192.7V197.3M876.30 193.4V203.0M876.90 195.6V204.8M877.50 189.4V197.8M878.10 193.1V196.5M878.70 189.1V194.4M879.30 188.5V194.0M879.90 191.7V197.6M880.60 235.4V239.6M881.20 231.9V240.1M881.80 225.0V232.9M882.40 221.1V226.2M883.00 217.0V224.8M883.60 217.8V224.9M884.20 217.3V230.2M884.80 220.5V229.2M885.40 226.5V231.0M886.00 228.7V231.2M886.60 221.9V230.8M887.20 216.3V225.5M887.80 213.5V218.0M888.40 210.1V215.7M889.00 207.3V212.4M889.60 205.9V215.8M890.20 213.8V223.8M890.80 219.7V222.3M891.40 219.8V227.1M892.00 224.6V226.7M892.60 219.4V226.7M893.20 211.4V220.2M893.80 210.4V214.7M894.40 209.0V213.3M895.00 209.3V214.7M895.60 206.0V213.5M896.20 251.5V252.3M896.80 249.6V252.6M897.40 248.7V262.5M898.00 258.5V265.5M898.60 255.2V266.9M899.20 254.9V256.3M899.80 252.5V257.2M900.40 252.8V258.4M901.00 256.9V258.6M901.60 257.8V262.8M902.20 253.3V262.3M902.80 252.5V255.3M903.40 254.5V257.5M904.00 255.2V259.0M904.60 255.6V258.3M905.20 255.4V264.3M905.80 260.8V268.5M906.40 263.1V267.8M907.00 267.0V269.0M907.60 267.0V268.3M908.20 265.2V269.6M908.80 258.0V266.9M909.40 251.6V259.9M910.00 247.7V253.6M910.60 247.9V249.2M911.20 246.3V249.6M911.80 244.9V248.5M912.40 239.8V245.2M913.00 236.0V241.2M913.60 234.4V237.9M914.20 236.3V239.1M914.80 231.6V240.9M915.40 233.0V236.9M916.00 230.2V233.8M916.60 223.2V233.6M917.20 224.6V225.9M917.80 214.3V224.7M918.40 214.3V218.0M919.00 214.5V222.6M919.60 217.8V222.8M920.20 218.7V227.3M920.80 216.1V224.4M921.40 218.2V221.7M922.00 218.3V225.8M922.60 212.8V222.7M923.20 211.0V216.1M923.80 208.5V216.2M924.40 209.3V216.4M925.60 191.3V193.5M926.20 190.7V193.6M926.80 190.7V196.6M927.40 189.1V199.4M928.00 195.8V205.0M928.60 202.6V207.7M929.20 199.3V208.0M929.80 196.9V201.6M930.40 192.7V198.6M931.00 191.5V197.8M931.60 197.6V200.3M932.20 191.2V201.1M932.80 193.2V201.0M933.40 199.6V204.5M934.00 199.0V204.8M934.60 198.8V201.9M935.20 198.0V203.1M935.80 201.8V212.5M936.40 209.5V221.7M937.00 215.4V218.2M937.60 217.6V225.1M938.20 217.7V224.4M938.80 214.9V224.4M939.40 215.4V216.7M940.00 215.6V217.0M940.60 212.0V218.0M941.30 175.2V176.9M941.90 174.3V181.5M942.50 178.3V185.6M943.10 184.3V192.2M943.70 186.5V187.7M944.30 186.3V189.0M944.90 188.7V193.7M945.50 190.4V198.8M946.10 192.2V198.4M946.70 191.8V196.4M947.30 188.8V197.4M947.90 191.4V197.1M948.50 190.9V195.2M949.10 192.2V197.1M949.70 196.0V196.9M950.30 196.6V200.4M950.90 197.1V201.3M951.50 192.1V200.0M952.10 187.2V196.0M952.70 183.3V190.4M953.30 184.4V186.1M953.90 183.6V186.6M954.50 181.1V185.7M955.10 178.6V188.9M955.70 176.6V182.8M956.30 167.1V177.9M956.90 163.5V176.4M957.50 175.9V184.4M958.10 182.1V194.9M958.70 190.3V193.1M959.30 190.4V193.8M959.90 189.7V193.5M960.50 188.1V192.1M961.10 186.1V194.8M961.70 182.0V188.2M962.30 179.3V188.1M962.90 183.2V187.5M963.50 178.5V185.1M964.10 177.4V183.6M964.70 177.4V178.2M965.30 175.1V179.3M965.90 175.9V182.3M966.50 175.1V182.0M967.10 181.2V183.7M967.70 182.9V188.9M968.30 187.4V192.0M968.90 184.3V191.2M969.50 184.8V190.0M970.10 185.4V187.8M970.70 185.0V195.2M971.60 142.2V146.1M972.20 142.4V154.3M972.80 151.7V161.9M973.40 155.2V158.4M974.00 152.1V158.1M974.60 148.6V154.9M975.20 148.5V150.8M975.80 141.5V153.1M976.40 141.3V145.7M977.00 139.2V146.1M977.60 139.3V141.9M978.20 136.3V141.5M978.80 135.5V139.1M979.40 131.0V136.9M980.00 128.0V133.5M980.60 125.9V132.4M981.20 124.4V127.1M981.80 116.0V126.8M982.40 117.4V121.1M983.00 113.4V122.2M983.60 121.6V124.7M984.20 122.8V129.0M984.80 123.3V128.3M985.40 123.4V125.9M986.20 129.8V134.3M986.80 132.5V138.5M987.40 133.1V137.7M988.00 133.4V140.4M988.60 133.3V136.4M989.20 133.7V138.0M989.80 134.6V136.5M990.40 135.8V140.7M991.00 139.0V143.5M991.60 139.7V142.3M992.20 137.2V143.7M992.80 136.1V142.8M993.40 140.0V143.5M994.00 141.3V147.6M994.60 146.6V149.7M995.20 147.9V150.0M995.80 143.2V150.7M996.40 136.8V145.2M997.00 127.2V137.5M997.60 120.2V130.2M998.20 113.4V122.3M998.80 112.9V118.9M999.40 116.7V119.4M1000.00 116.0V121.2M1000.60 118.4V122.4M1001.20 112.6V118.6M1001.80 117.5V125.8M1002.40 124.4V130.4M1003.00 129.2V132.3M1003.60 127.5V132.2M1004.20 118.8V130.1M1004.80 111.9V119.8M1005.40 111.9V114.7M1006.00 110.5V117.6M1006.60 109.6V113.5M1007.20 110.9V114.7M1007.80 107.3V111.4M1008.40 103.9V109.2M1009.00 100.6V106.6M1009.60 102.3V105.1M1010.20 104.1V109.5M1010.80 104.7V113.6M1011.40 107.0V112.8M1012.00 106.1V109.7M1012.60 106.7V110.8M1013.20 107.8V110.9M1013.80 108.8V110.6M1014.40 109.5V118.8M1015.00 108.1V118.0M1015.60 108.8V109.8M1016.50 113.5V118.7M1017.10 114.3V116.4M1017.70 114.1V117.5M1018.30 116.5V123.0M1018.90 117.6V121.9M1019.50 119.0V128.3M1020.10 126.5V130.4M1020.70 127.4V133.8M1021.30 123.1V129.5M1021.90 121.2V125.5M1022.50 122.4V124.0M1023.10 115.7V125.2M1023.70 120.9V128.4M1024.30 126.0V130.0M1024.90 126.7V129.7M1025.50 128.8V131.2M1026.10 124.4V130.1M1026.70 123.7V127.8M1027.30 121.3V127.6M1027.90 115.8V125.6M1028.50 114.8V116.4M1029.10 114.2V116.7M1029.70 114.2V118.3M1030.30 113.1V117.8M1030.90 108.4V114.8M1031.90 92.5V95.4M1032.50 93.0V99.5M1033.10 95.0V102.0M1033.70 100.6V107.1M1034.30 103.7V108.4M1034.90 103.5V106.2M1035.50 103.2V107.1M1036.10 98.2V103.6M1036.70 96.4V104.7M1037.30 102.2V105.7M1037.90 102.5V104.9M1038.50 96.8V104.0M1039.10 97.6V102.5M1039.70 99.6V106.5M1040.30 105.0V106.3M1040.90 103.3V107.1M1041.50 102.4V104.9M1042.10 93.2V103.7M1042.70 97.2V101.3M1043.30 98.8V102.5M1043.90 101.1V110.0M1044.50 104.1V110.6M1045.10 103.6V108.0M1045.70 98.3V106.1M1046.30 97.7V105.2M1046.90 99.9V107.4M1047.50 96.3V101.1M1048.10 92.5V98.6M1048.70 93.2V102.8M1049.30 101.5V104.7M1049.90 102.9V107.4M1050.50 103.6V108.1M1051.10 105.4V108.4M1051.70 105.0V109.7M1052.30 100.4V109.1M1052.90 102.1V107.3M1053.50 97.1V102.6M1054.10 97.6V103.6M1054.70 103.3V105.8M1055.30 103.2V107.8M1055.90 95.9V105.3M1056.50 97.7V101.5M1057.10 100.0V102.8M1058.10 109.0V112.5M1058.70 109.4V110.9M1059.30 109.1V116.6M1059.90 115.0V120.9M1060.50 117.3V120.1M1061.10 114.5V123.0M1062.00 136.6V141.1M1062.60 136.5V140.2M1063.20 127.5V139.6M1063.80 126.9V129.0M1064.40 129.2V138.6M1065.00 134.1V135.6M1065.60 130.5V136.0M1066.20 130.7V135.0M1066.80 127.3V133.1M1067.40 127.9V131.3M1068.00 127.9V129.8M1068.60 122.4V131.4M1069.20 120.9V123.9M1069.80 120.8V127.4M1070.40 119.3V123.5M1071.00 117.7V129.6M1071.60 121.8V124.9M1072.20 121.6V124.0M1072.80 119.9V124.0M1073.40 119.4V122.3M1074.00 121.4V131.0M1074.60 117.9V131.0M1075.20 119.1V126.7M1075.80 122.1V141.0M1076.40 134.4V139.9M1077.30 104.7V107.1M1077.90 97.5V106.7M1078.50 95.5V99.7M1079.10 93.6V97.7M1079.70 94.7V97.5M1080.30 96.2V100.3M1080.90 94.1V99.6M1081.50 92.0V98.5M1082.10 96.4V98.5M1082.70 96.0V99.3M1083.30 96.0V98.8M1083.90 89.3V99.7M1084.50 93.1V95.1M1085.10 90.8V94.5M1085.70 94.0V100.6M1086.30 98.2V103.4M1086.90 98.6V106.4M1087.50 104.3V108.0M1088.10 104.4V113.0M1088.70 110.9V115.4M1089.30 113.5V119.8M1089.90 114.5V121.9M1090.50 115.1V117.8M1091.10 108.6V123.4M1091.70 119.3V121.7M1092.30 114.2V123.4M1092.90 113.6V115.5M1093.50 111.1V117.1M1094.10 110.6V117.7M1094.70 117.0V120.5M1095.30 119.2V121.6M1095.90 114.6V123.3M1096.50 108.8V117.2M1097.10 105.8V110.9M1097.70 105.7V114.2M1098.30 102.1V106.3M1098.90 103.7V105.7M1099.50 104.9V107.2M1100.10 105.6V108.2M1100.70 107.0V111.0M1101.30 106.6V116.2M1101.90 106.5V120.9M1102.50 120.6V124.8M1103.10 118.7V123.3M1103.70 119.1V120.4M1104.30 118.1V119.9M1104.90 118.5V126.0M1105.50 125.4V130.8M1106.10 120.3V129.1M1106.70 114.2V121.5M1107.30 100.9V117.1M1107.90 101.0V114.1M1108.50 105.7V109.1M1109.10 108.2V129.6M1109.70 123.0V128.3M1110.30 119.9V124.8M1110.90 117.2V124.0M1111.50 120.9V130.2M1112.10 123.6V128.8M1112.70 121.5V126.4M1113.30 122.2V124.4M1113.90 123.5V131.0M1114.50 125.5V128.2M1115.10 121.7V126.8M1115.70 114.8V124.2M1116.30 111.1V118.5M1116.90 107.6V114.9M1117.50 103.6V110.2M1118.10 101.8V106.0M1118.70 95.6V104.3M1119.30 95.1V99.0M1119.90 91.8V98.7M1120.50 88.5V94.2M1121.10 81.1V89.4M1121.70 80.5V85.5M1122.30 81.5V86.5M1122.90 84.1V90.9M1123.50 86.5V93.0M1124.10 86.4V91.8M1124.70 87.3V93.2M1125.30 87.6V92.5M1125.90 90.6V94.0M1126.50 92.0V98.7M1127.10 96.0V102.8M1127.70 100.1V103.0M1128.30 93.4V102.5M1128.90 95.0V102.0M1129.50 99.6V102.3M1130.10 94.4V102.3M1130.70 92.4V96.8M1131.30 88.4V94.2M1131.90 88.1V92.2M1132.50 90.8V94.3M1133.10 92.1V100.1M1133.70 96.7V106.1M1134.30 103.5V105.6M1134.90 103.3V105.7M1135.50 104.2V110.8M1136.10 108.9V112.9M1136.70 111.1V114.5M1137.30 112.0V113.7M1137.90 112.1V117.1M1138.50 116.6V118.6M1139.10 108.4V120.2M1139.70 107.8V117.0M1140.30 106.1V109.1M1140.90 105.0V106.7M1141.50 102.6V109.3M1142.10 106.7V112.4M1142.70 107.3V112.2M1143.30 111.3V116.8M1143.90 104.2V119.3M1144.50 98.4V106.8M1145.10 94.8V101.5M1145.70 94.0V100.1M1146.30 91.4V99.0M1146.90 92.2V94.1M1147.50 88.3V92.8M1148.10 85.1V91.8M1148.70 84.9V89.8M1149.30 84.6V93.2M1149.90 91.0V95.2M1150.50 90.9V100.1M1151.10 95.6V100.7M1151.70 99.3V102.9M1152.30 101.0V104.4M1152.90 97.6V101.7M1153.50 97.1V100.1M1154.10 97.6V105.0M1154.70 102.9V107.8M1155.30 102.5V108.1M1155.90 100.6V105.1M1156.50 98.1V101.8M1157.10 96.5V100.3M1157.70 96.6V100.1M1158.30 91.4V102.5M1158.90 95.6V98.9M1159.50 96.6V101.5M1160.10 99.8V107.0M1160.70 96.4V102.4M1161.30 98.0V100.6M1161.90 97.0V101.7M1162.50 98.8V103.7M1163.10 99.6V103.1M1163.70 100.8V107.9M1164.30 105.9V113.5M1164.90 111.0V121.6M1165.50 118.1V126.7M1166.10 116.9V125.6M1166.70 111.4V118.7M1167.30 107.9V116.5M1167.90 99.5V102.7M1168.50 99.9V103.5M1169.10 101.9V102.9M1169.70 99.7V103.1M1170.30 97.4V103.6M1170.90 92.9V98.6M1171.50 93.7V95.0M1172.10 90.4V95.9M1172.70 90.6V94.6M1173.30 92.1V96.1M1173.90 92.7V96.6M1174.50 96.3V100.6M1175.10 95.3V101.6M1175.70 97.4V99.4M1176.30 97.6V99.7M1176.90 97.7V103.5M1177.50 100.2V102.5M1178.10 95.8V102.3M1178.70 97.4V100.3M1179.30 91.4V100.1M1179.90 84.4V92.8M1180.50 84.3V90.4M1181.10 86.8V90.5M1181.70 81.8V88.1M1182.30 81.4V87.3M1183.20 95.9V96.8M1183.80 96.4V105.7M1184.40 104.7V115.8M1185.00 110.4V114.8M1185.60 110.7V114.2M1186.20 108.2V111.8M1186.80 107.6V108.6M1187.40 103.8V112.3M1188.00 101.6V109.8M1188.60 107.9V111.4M1189.20 105.8V111.0M1189.80 105.6V112.3M1190.40 107.4V111.0M1191.00 107.4V112.7M1191.60 109.9V116.0M1192.20 103.4V113.2M1192.80 100.3V119.4M1193.40 117.9V136.4M1194.00 134.3V136.8M1194.60 127.1V138.5M1195.20 126.4V133.1M1195.80 126.7V130.5M1196.40 126.1V131.5M1197.00 127.1V130.1M1197.60 128.6V131.2M1198.20 127.0V130.8M1198.80 122.8V127.8M1199.40 121.7V124.9M1200.00 122.7V126.2M1200.60 119.7V125.9M1201.20 116.4V121.4M1201.80 117.4V120.5M1202.40 117.1V122.8M1203.00 114.3V118.9M1203.60 113.6V117.1M1204.20 111.2V116.1M1204.80 108.3V112.3M1205.40 107.7V111.5M1206.00 104.8V112.3M1206.60 107.5V113.2M1207.20 107.1V108.4M1207.80 106.0V109.8M1208.40 105.4V115.0M1209.00 105.7V120.3M1209.60 111.7V117.8M1210.20 110.7V115.0M1210.80 107.1V111.4M1211.40 107.1V110.5M1212.00 103.5V110.5M1212.80 84.8V87.9M1213.40 84.5V86.7M1214.00 71.7V87.3M1214.60 72.0V77.0M1215.20 76.1V84.6M1215.80 78.9V84.8M1216.40 76.1V80.3M1217.00 75.6V84.6M1217.60 77.1V78.5M1218.20 76.7V81.5M1218.80 79.7V81.5M1219.40 77.7V82.3M1220.00 78.6V82.3M1220.60 78.2V80.6M1221.20 76.1V80.5M1221.80 76.6V79.2M1222.40 78.3V82.8M1223.00 81.4V84.8M1223.60 81.8V88.4M1224.20 87.0V89.8M1224.80 83.6V93.9M1225.40 83.3V89.2M1226.00 79.8V85.7M1226.60 77.6V81.4M1227.20 77.4V83.2M1228.00 59.2V63.8M1228.60 58.1V63.7M1229.20 55.6V60.3M1229.80 53.6V58.0M1230.40 50.0V55.8M1231.00 39.0V53.8M1231.60 41.0V42.0M1232.20 41.0V44.4M1232.80 38.0V44.6M1233.40 35.6V43.6M1234.00 42.5V48.0M1234.60 42.4V45.6M1235.20 44.2V50.3M1235.80 44.7V49.9M1236.40 42.5V50.6M1237.00 48.9V54.9M1237.60 54.4V58.7M1238.20 55.0V57.9M1238.80 56.3V61.9M1239.40 60.0V67.4M1240.00 64.7V66.7M1240.60 64.5V70.3M1241.20 67.8V71.5M1241.80 64.7V70.9M1242.40 60.7V70.9M1243.00 61.8V64.8M1243.60 62.7V69.9M1244.20 68.5V74.0M1244.80 68.9V72.9M1245.40 72.1V74.8M1246.00 71.9V77.8M1246.60 77.0V83.4M1247.20 75.2V81.6M1247.80 78.4V81.1M1248.40 76.0V79.9M1249.00 77.0V82.9M1249.60 78.4V80.8M1250.20 77.5V81.6M1250.80 76.3V79.1M1251.40 74.6V76.5M1252.00 75.2V76.4M1252.60 76.0V78.1M1253.20 73.4V78.6M1253.80 71.9V77.5M1254.40 73.0V76.7M1255.00 74.3V76.0M1255.60 67.4V76.8M1256.20 64.9V71.0M1256.80 64.8V68.9M1257.40 66.8V71.0M1258.00 69.0V71.7M1258.60 68.0V81.2M1259.20 78.9V82.6M1259.80 77.9V86.9M1260.40 80.8V88.9M1261.00 78.4V86.1M1261.60 79.0V80.1M1262.20 77.0V81.9M1262.80 75.9V77.7M1263.40 76.2V78.4M1264.00 76.3V82.2M1264.60 66.2V84.1M1265.20 72.6V78.2M1265.80 72.3V76.7M1266.40 70.7V73.0M1267.00 69.9V73.9M1267.60 70.0V76.8M1268.20 74.9V79.2M1268.80 76.3V79.9M1269.40 76.5V83.2M1270.00 82.0V85.4M1270.60 81.6V84.2M1271.20 77.1V86.9M1271.80 71.6V85.0M1272.40 73.4V81.8M1273.00 70.8V81.0M1273.60 72.0V74.5" stroke="#6e6e6e" stroke-width="1" fill="none"/><path d="M1.80 676.6V680.1M3.00 681.3V682.1M4.80 679.5V688.4M5.40 674.7V679.5M6.00 669.8V674.7M15.60 732.7V739.6M16.20 728.8V732.7M18.00 724.6V731.4M18.60 720.1V724.6M21.60 723.7V730.9M22.20 714.5V723.7M22.80 710.0V714.5M23.40 705.4V710.0M24.00 698.6V705.4M24.60 694.7V698.6M25.20 690.1V694.7M27.00 700.3V703.0M28.20 702.5V706.9M28.80 693.4V702.5M29.40 689.6V693.4M30.60 682.0V692.3M31.20 681.4V682.0M32.40 682.2V682.8M34.20 690.4V691.0M34.80 689.2V690.4M35.40 686.6V689.2M36.00 683.4V686.6M36.60 681.6V683.4M37.20 673.5V681.6M37.80 670.8V673.5M38.40 668.0V670.8M42.60 686.3V689.4M43.20 683.8V686.3M44.40 683.6V684.7M45.60 684.6V687.5M46.20 675.9V684.6M46.80 670.6V675.9M48.00 669.5V671.2M48.60 668.4V669.5M49.20 666.5V668.4M53.40 679.6V692.1M54.00 665.7V679.6M55.00 730.0V731.9M55.60 729.1V730.0M56.20 720.8V729.1M56.80 714.4V720.8M58.60 725.5V727.9M59.20 719.2V725.5M59.80 717.2V719.2M62.80 735.2V736.6M63.40 730.0V735.2M64.00 726.2V730.0M64.60 712.9V726.2M65.20 703.6V712.9M65.80 701.3V703.6M67.60 710.0V714.1M68.20 709.4V710.0M68.80 708.3V709.4M71.20 718.7V719.3M71.80 713.5V718.7M72.40 705.2V713.5M73.00 702.1V705.2M73.60 698.2V702.1M74.20 691.7V698.2M76.60 702.0V702.6M79.00 718.9V720.3M79.60 708.2V718.9M80.20 698.9V708.2M84.40 722.7V729.4M85.00 714.1V722.7M85.60 702.4V714.1M86.20 701.1V702.4M88.60 703.3V704.1M90.40 704.2V704.8M91.00 702.1V704.2M91.60 699.9V702.1M93.40 705.9V706.8M94.00 703.5V705.9M97.60 722.7V728.4M98.80 722.5V724.9M99.40 717.5V722.5M100.00 711.1V717.5M100.60 708.5V711.1M101.20 702.1V708.5M101.80 692.4V702.1M103.00 694.1V697.0M104.80 692.6V699.9M107.20 693.0V696.0M109.60 701.4V702.3M110.20 699.2V701.4M110.80 698.0V699.2M111.40 696.4V698.0M112.60 692.4V697.0M114.40 691.7V699.4M115.00 685.5V691.7M115.60 677.2V685.5M119.20 690.4V691.8M119.80 689.8V690.4M121.00 692.7V696.6M122.80 693.1V696.0M123.40 688.0V693.1M124.00 679.6V688.0M124.60 671.2V679.6M125.20 666.2V671.2M125.80 662.2V666.2M126.40 659.2V662.2M128.80 662.5V667.9M129.40 657.1V662.5M130.20 633.5V634.1M130.80 631.0V633.5M131.40 624.0V631.0M132.00 611.4V624.0M132.60 607.7V611.4M133.20 602.1V607.7M133.80 600.9V602.1M134.40 599.2V600.9M135.00 598.6V599.2M135.60 593.6V598.6M137.40 596.4V599.8M138.60 593.7V597.9M141.00 594.4V599.0M142.20 589.8V602.8M142.80 589.2V589.8M143.40 588.6V589.2M145.20 604.6V608.1M145.80 593.7V604.6M146.40 582.9V593.7M149.40 590.5V591.4M152.40 594.3V598.9M153.00 589.4V594.3M153.60 581.6V589.4M154.20 575.4V581.6M154.80 571.9V575.4M156.00 571.0V574.6M157.80 583.4V585.3M159.60 588.9V589.6M160.20 588.3V588.9M160.80 583.6V588.3M164.40 596.6V597.7M166.20 603.0V603.8M166.80 602.4V603.0M167.40 601.3V602.4M168.60 598.5V604.7M169.20 596.1V598.5M170.40 597.1V600.6M172.20 597.5V599.6M174.00 604.9V608.2M174.60 604.0V604.9M178.20 616.0V619.0M178.80 609.6V616.0M180.00 610.3V611.0M183.00 617.7V619.4M183.60 615.0V617.7M184.20 613.0V615.0M184.80 612.1V613.0M185.40 608.4V612.1M186.00 604.4V608.4M186.60 603.8V604.4M187.80 605.4V606.9M188.40 600.2V605.4M189.00 594.8V600.2M192.00 609.2V609.8M192.60 606.0V609.2M195.60 616.3V618.6M196.20 610.1V616.3M196.80 606.1V610.1M197.40 599.8V606.1M198.60 597.1V600.4M199.20 592.5V597.1M199.80 587.1V592.5M200.40 585.4V587.1M201.00 581.5V585.4M201.60 575.7V581.5M202.20 572.5V575.7M202.80 566.3V572.5M205.20 578.0V578.6M205.80 574.2V578.0M207.60 579.3V580.1M208.20 571.5V579.3M209.40 573.7V574.3M210.00 569.1V573.7M210.60 562.5V569.1M211.20 557.7V562.5M213.00 558.8V565.7M214.20 561.3V562.3M214.80 553.6V561.3M215.40 552.9V553.6M216.60 549.5V554.1M217.20 548.8V549.5M219.60 550.2V560.1M220.20 543.2V550.2M222.00 558.6V561.4M225.00 571.4V575.1M225.60 568.0V571.4M228.60 575.7V580.2M229.20 569.8V575.7M229.80 567.5V569.8M231.00 568.3V570.6M231.60 566.8V568.3M234.60 586.0V592.8M235.20 581.7V586.0M235.80 578.0V581.7M236.40 567.1V578.0M237.00 564.5V567.1M237.60 561.5V564.5M238.20 559.7V561.5M238.80 555.7V559.7M241.20 557.2V566.4M244.80 568.5V571.2M245.40 564.7V568.5M246.00 563.9V564.7M247.80 563.1V566.8M248.40 562.3V563.1M249.00 558.3V562.3M249.60 556.2V558.3M250.20 555.3V556.2M250.80 551.4V555.3M251.40 548.9V551.4M252.00 545.6V548.9M252.60 538.0V545.6M253.80 532.2V538.6M254.40 526.4V532.2M255.00 525.8V526.4M255.60 524.2V525.8M257.50 529.6V530.4M258.10 528.7V529.6M259.30 527.3V530.1M259.90 525.3V527.3M260.50 524.0V525.3M261.10 519.0V524.0M261.70 490.5V519.0M262.30 487.6V490.5M262.90 481.6V487.6M263.50 480.8V481.6M264.10 476.5V480.8M265.30 475.8V477.1M265.90 471.4V475.8M266.50 469.5V471.4M267.10 467.6V469.5M267.70 455.9V467.6M268.30 450.5V455.9M268.90 449.9V450.5M269.50 447.6V449.9M271.30 452.4V457.8M271.90 450.0V452.4M272.50 447.5V450.0M273.10 446.0V447.5M273.70 440.8V446.0M274.30 439.8V440.8M274.90 436.7V439.8M276.10 435.9V437.3M277.90 445.0V447.3M278.50 441.4V445.0M279.10 438.1V441.4M279.70 436.2V438.1M280.30 433.7V436.2M281.50 436.1V439.1M282.70 417.8V422.0M283.30 415.3V417.8M284.50 417.0V419.3M285.70 419.1V420.9M286.90 416.9V420.0M287.50 416.3V416.9M289.30 419.3V421.9M289.90 414.7V419.3M290.50 405.7V414.7M291.10 405.1V405.7M295.90 424.0V425.4M297.40 413.4V414.0M298.00 404.0V413.4M298.60 399.7V404.0M299.20 396.2V399.7M299.80 393.2V396.2M300.40 390.6V393.2M301.00 384.6V390.6M301.60 383.2V384.6M304.60 390.3V393.3M305.20 388.2V390.3M305.80 387.2V388.2M306.40 386.6V387.2M308.20 386.0V390.7M308.80 385.0V386.0M311.20 389.1V391.0M313.60 394.2V397.3M314.20 390.2V394.2M315.40 391.3V391.9M316.00 390.0V391.3M318.40 397.9V400.8M320.20 403.6V404.3M321.40 403.4V404.2M322.00 400.8V403.4M322.60 396.8V400.8M323.80 394.0V398.9M324.40 393.1V394.0M325.60 396.4V398.7M326.20 392.7V396.4M327.40 393.1V395.6M328.00 388.8V393.1M328.60 387.2V388.8M329.20 384.4V387.2M330.40 386.2V386.8M331.00 385.6V386.2M331.60 385.0V385.6M332.80 385.0V385.8M334.60 389.5V395.0M336.40 392.6V394.0M337.00 391.1V392.6M337.60 389.0V391.1M338.80 389.2V391.2M339.40 388.0V389.2M341.70 382.0V382.6M343.50 380.2V384.9M344.10 379.2V380.2M344.70 375.9V379.2M345.30 372.2V375.9M347.10 375.4V376.4M348.30 373.4V377.4M350.10 375.2V378.3M351.30 372.8V375.8M351.90 367.3V372.8M353.70 372.9V374.3M354.90 374.8V378.3M356.70 374.5V379.9M357.30 373.9V374.5M357.90 372.0V373.9M359.70 374.0V376.4M360.90 377.1V379.9M361.50 374.6V377.1M362.70 374.3V375.5M363.30 371.2V374.3M363.90 370.5V371.2M364.50 369.9V370.5M365.70 369.3V370.7M366.90 366.0V372.8M368.10 367.1V368.1M368.70 366.5V367.1M370.50 367.3V370.3M371.70 367.2V370.7M373.50 371.2V371.8M374.70 369.1V372.0M375.30 366.0V369.1M375.90 363.5V366.0M376.50 362.9V363.5M377.10 361.5V362.9M379.50 364.5V365.1M380.10 363.8V364.5M381.30 363.1V365.4M383.10 367.2V368.1M383.70 363.4V367.2M384.30 362.5V363.4M384.90 359.8V362.5M385.50 358.1V359.8M386.10 357.4V358.1M386.70 355.7V357.4M387.90 357.7V358.3M392.10 367.9V371.7M392.70 364.5V367.9M394.50 367.8V369.0M395.10 367.2V367.8M395.70 366.0V367.2M396.30 365.4V366.0M396.90 363.3V365.4M398.10 366.7V368.2M399.30 367.3V370.4M401.10 369.3V370.6M402.60 384.7V385.3M403.20 384.1V384.7M404.40 385.2V387.4M405.00 383.9V385.2M405.60 380.2V383.9M406.80 381.2V382.6M409.80 384.0V384.6M410.40 383.4V384.0M411.00 381.4V383.4M412.20 380.2V382.0M412.80 379.5V380.2M414.00 380.1V382.1M415.20 377.5V380.7M415.80 373.6V377.5M416.40 373.0V373.6M417.00 370.6V373.0M418.80 352.4V366.6M419.40 337.4V352.4M420.00 330.6V337.4M420.60 324.8V330.6M422.40 325.1V326.5M423.00 324.5V325.1M425.40 331.8V333.0M426.00 329.9V331.8M426.60 326.1V329.9M427.20 321.3V326.1M428.40 319.9V322.5M430.20 319.3V329.0M430.80 317.7V319.3M431.40 315.3V317.7M433.20 317.5V320.2M433.80 316.9V317.5M434.40 313.7V316.9M435.00 311.8V313.7M435.60 309.4V311.8M436.80 308.2V311.1M438.00 308.5V310.7M438.60 307.4V308.5M439.20 304.1V307.4M439.80 303.5V304.1M440.40 301.5V303.5M441.00 300.4V301.5M441.60 299.3V300.4M444.60 305.3V307.1M445.80 308.2V311.1M446.40 307.6V308.2M447.00 305.9V307.6M448.60 286.8V290.4M449.20 279.7V286.8M449.80 275.1V279.7M450.40 271.3V275.1M452.20 274.9V276.9M452.80 273.7V274.9M454.00 276.4V277.1M457.00 278.4V281.7M459.40 279.8V286.7M460.00 271.8V279.8M460.60 270.2V271.8M461.20 266.6V270.2M461.80 258.6V266.6M463.00 256.9V259.2M463.60 252.7V256.9M464.20 244.8V252.7M466.60 254.6V258.4M467.80 254.4V255.2M468.40 252.3V254.4M469.60 253.2V255.5M470.20 252.6V253.2M470.80 252.0V252.6M472.60 251.0V256.1M473.80 252.3V255.2M474.40 250.2V252.3M475.00 248.4V250.2M476.20 255.8V256.9M477.40 251.9V257.2M478.60 254.1V256.7M479.80 250.9V255.1M480.40 244.1V250.9M482.20 243.6V246.5M483.40 247.3V249.2M484.00 246.7V247.3M484.60 245.6V246.7M485.80 245.4V248.1M486.40 244.2V245.4M487.60 239.0V245.3M488.20 237.5V239.0M488.80 233.7V237.5M489.40 232.9V233.7M490.00 232.3V232.9M490.60 227.9V232.3M491.80 221.7V229.9M492.40 217.6V221.7M493.00 214.4V217.6M493.60 211.4V214.4M494.80 213.0V216.5M496.00 216.8V219.8M497.20 213.5V219.1M497.80 212.0V213.5M499.00 206.2V212.8M500.20 207.2V209.8M500.80 205.7V207.2M502.00 203.5V208.3M502.60 200.4V203.5M503.20 195.8V200.4M503.80 190.8V195.8M504.40 185.3V190.8M505.00 176.9V185.3M505.60 169.3V176.9M507.40 175.5V178.3M508.80 198.0V198.6M509.40 197.4V198.0M511.20 201.6V203.5M511.80 197.5V201.6M512.40 195.3V197.5M513.00 192.7V195.3M514.20 192.5V194.6M516.00 197.7V198.3M516.60 197.1V197.7M517.80 195.7V198.0M518.40 193.5V195.7M519.00 192.9V193.5M520.80 191.4V197.4M522.00 191.8V194.7M522.60 189.3V191.8M523.80 191.2V193.0M524.40 190.1V191.2M525.00 183.4V190.1M525.60 180.2V183.4M526.20 175.4V180.2M527.40 174.5V176.0M529.20 180.8V181.4M531.60 185.7V188.1M532.20 183.6V185.7M532.80 181.5V183.6M534.00 175.7V182.9M534.60 169.7V175.7M535.20 164.5V169.7M535.80 160.2V164.5M537.00 162.4V165.2M537.60 155.7V162.4M539.40 159.8V161.0M540.60 159.3V162.5M541.20 155.1V159.3M543.60 162.6V163.2M544.80 163.3V164.3M545.40 158.3V163.3M546.00 157.0V158.3M546.60 156.4V157.0M547.20 153.1V156.4M549.60 158.6V161.1M550.20 156.0V158.6M550.80 151.2V156.0M552.00 150.4V154.5M552.60 143.5V150.4M553.20 142.3V143.5M554.40 141.5V143.3M556.20 144.7V145.4M556.80 141.8V144.7M557.40 139.8V141.8M559.80 156.0V156.6M561.60 155.0V159.1M562.80 151.9V156.8M563.40 148.3V151.9M564.00 143.0V148.3M565.20 150.7V154.2M566.40 147.8V153.7M567.60 148.1V149.4M568.80 148.4V150.1M570.00 142.3V149.0M570.60 141.0V142.3M571.80 140.4V141.7M574.80 145.9V149.2M575.40 143.0V145.9M577.80 146.6V149.0M578.40 142.8V146.6M580.20 146.8V148.2M587.80 123.7V126.1M588.40 120.9V123.7M590.80 132.4V133.9M591.40 129.1V132.4M592.00 126.2V129.1M593.20 127.4V131.6M593.80 122.2V127.4M598.00 159.4V183.0M599.10 141.5V142.7M600.30 139.6V145.4M600.90 134.2V139.6M601.50 133.6V134.2M602.10 133.0V133.6M602.70 126.1V133.0M603.90 126.3V126.9M610.50 164.6V168.6M611.10 162.0V164.6M611.70 160.1V162.0M612.30 159.5V160.1M614.10 180.7V183.5M615.30 175.2V183.4M615.90 168.4V175.2M616.50 166.8V168.4M618.30 170.9V172.0M618.90 169.1V170.9M620.10 171.6V172.2M621.30 175.5V177.6M622.50 178.3V178.9M623.70 181.1V181.9M624.90 180.3V181.8M626.70 187.3V190.8M627.90 192.9V193.9M628.50 189.0V192.9M629.10 188.4V189.0M629.70 185.6V188.4M630.30 179.7V185.6M630.90 170.2V179.7M632.10 171.4V173.7M633.90 168.9V174.3M635.10 168.7V172.3M636.30 167.6V172.3M638.10 168.4V169.1M639.30 169.8V172.8M639.90 169.2V169.8M640.50 166.0V169.2M641.10 163.8V166.0M642.30 164.2V166.0M643.50 165.2V166.6M644.10 159.7V165.2M644.70 154.4V159.7M645.30 153.0V154.4M647.10 170.3V176.7M647.70 166.6V170.3M649.50 166.5V170.4M650.10 165.5V166.5M651.30 166.4V167.0M651.90 164.8V166.4M653.10 162.3V167.2M654.30 154.4V162.9M656.70 166.5V168.5M657.30 165.7V166.5M659.80 179.3V181.2M660.40 176.3V179.3M665.20 191.7V194.8M667.00 190.7V196.4M667.60 188.0V190.7M668.20 183.4V188.0M668.80 178.3V183.4M669.40 177.5V178.3M670.00 172.9V177.5M673.00 182.0V185.4M673.60 180.0V182.0M675.40 183.9V186.2M676.00 179.8V183.9M676.60 178.7V179.8M677.20 178.1V178.7M678.40 181.4V182.7M679.60 181.1V182.4M681.40 180.8V182.9M682.00 180.1V180.8M682.60 177.9V180.1M683.80 175.9V178.9M685.00 171.3V176.7M685.60 167.4V171.3M688.00 171.2V172.7M688.60 170.2V171.2M690.40 165.3V173.7M691.00 158.3V165.3M692.80 166.6V169.7M693.40 163.5V166.6M694.00 162.9V163.5M694.60 161.6V162.9M696.40 162.1V168.3M697.60 160.4V163.0M698.20 157.5V160.4M699.40 155.3V160.0M701.20 162.2V165.2M703.00 168.7V169.7M704.20 163.8V170.2M704.80 159.5V163.8M705.40 154.1V159.5M709.00 166.5V169.9M711.40 170.7V173.5M712.00 169.2V170.7M713.80 172.7V178.5M714.40 172.1V172.7M715.00 170.4V172.1M716.20 169.5V172.8M716.80 168.4V169.5M717.40 167.5V168.4M719.80 160.6V163.9M721.60 163.4V164.5M722.20 160.2V163.4M724.00 162.4V163.0M724.60 160.7V162.4M726.40 162.2V165.9M728.20 160.0V163.4M729.30 139.6V140.2M729.90 134.1V139.6M730.50 116.5V134.1M731.10 108.3V116.5M738.90 183.0V186.4M739.50 177.0V183.0M740.10 169.8V177.0M740.70 166.9V169.8M741.30 162.3V166.9M742.50 157.5V163.2M743.70 156.8V158.6M744.30 156.2V156.8M744.90 153.0V156.2M749.10 187.7V190.4M750.30 188.5V189.1M751.50 198.0V199.1M753.90 194.1V202.9M758.70 226.1V234.0M759.30 222.3V226.1M760.10 203.0V204.7M762.50 208.4V209.2M763.10 207.8V208.4M764.30 210.7V212.6M765.50 211.3V211.9M768.50 220.6V221.8M770.30 208.5V221.9M771.50 209.8V210.8M772.70 201.8V210.4M773.30 201.2V201.8M773.90 196.5V201.2M775.00 222.0V223.7M776.20 222.0V222.6M779.80 237.4V238.2M780.40 236.5V237.4M781.00 234.9V236.5M781.60 234.0V234.9M783.40 232.3V237.3M784.00 229.7V232.3M784.60 224.7V229.7M785.20 222.2V224.7M785.80 204.6V222.2M786.40 195.1V204.6M787.00 191.0V195.1M788.20 195.3V195.9M791.80 213.0V214.2M793.00 209.3V217.9M793.60 208.2V209.3M794.20 205.4V208.2M795.40 201.3V206.0M797.20 199.0V203.8M797.80 195.9V199.0M799.00 193.0V197.7M799.60 192.1V193.0M800.20 188.0V192.1M800.80 185.6V188.0M801.40 180.2V185.6M802.00 175.1V180.2M802.60 173.8V175.1M803.20 173.2V173.8M804.40 172.5V173.8M805.00 170.3V172.5M805.60 163.4V170.3M808.00 186.0V188.9M808.60 177.1V186.0M812.20 191.2V193.3M812.80 186.5V191.2M815.20 196.6V200.8M815.80 193.8V196.6M817.00 187.3V195.4M817.60 183.3V187.3M818.20 182.0V183.3M818.80 181.4V182.0M819.40 176.4V181.4M821.80 175.1V182.5M822.40 166.4V175.1M823.00 163.2V166.4M827.20 180.5V182.1M827.80 175.9V180.5M828.40 174.2V175.9M830.80 179.3V183.1M833.80 180.3V184.4M834.40 179.1V180.3M835.80 147.6V154.7M836.40 142.0V147.6M841.20 167.2V170.2M842.40 167.4V170.9M843.00 166.8V167.4M843.60 163.4V166.8M846.00 181.9V182.5M851.10 177.1V188.3M851.70 172.3V177.1M858.90 190.7V193.0M859.50 188.6V190.7M860.10 183.1V188.6M860.70 178.3V183.1M861.30 174.7V178.3M861.90 168.4V174.7M862.50 165.8V168.4M864.90 175.7V178.6M865.50 169.0V175.7M869.10 182.3V183.7M870.30 184.6V185.4M871.50 184.8V186.6M875.10 194.2V197.4M875.70 193.6V194.2M876.90 196.5V202.4M877.50 195.1V196.5M878.10 193.7V195.1M878.70 189.3V193.7M881.20 232.4V238.2M881.80 225.2V232.4M882.40 222.4V225.2M883.00 218.4V222.4M884.80 227.3V228.3M886.60 225.1V230.1M887.20 216.7V225.1M887.80 214.3V216.7M888.40 210.5V214.3M889.00 209.8V210.5M890.80 221.4V222.0M892.60 220.1V226.6M893.20 213.7V220.1M893.80 210.5V213.7M895.00 209.4V211.1M896.80 251.7V252.3M898.60 256.1V264.4M899.20 255.4V256.1M899.80 254.8V255.4M902.20 255.2V261.4M902.80 254.6V255.2M904.60 255.9V258.2M907.60 267.3V267.9M908.20 266.4V267.3M908.80 258.1V266.4M909.40 252.9V258.1M910.00 248.8V252.9M911.20 247.9V249.4M911.80 245.1V247.9M912.40 240.1V245.1M913.00 236.7V240.1M914.80 236.2V238.9M915.40 233.4V236.2M916.00 231.2V233.4M916.60 225.0V231.2M917.20 224.4V225.0M917.80 216.9V224.4M918.40 215.3V216.9M919.60 220.0V220.9M920.80 220.5V223.2M921.40 219.1V220.5M922.60 214.9V221.1M923.20 213.2V214.9M923.80 211.0V213.2M925.60 192.2V192.8M926.20 191.0V192.2M929.20 199.4V206.1M929.80 197.9V199.4M930.40 193.5V197.9M932.20 194.4V198.4M934.00 199.8V204.1M938.20 222.6V223.2M938.80 216.0V222.6M940.00 216.0V216.6M941.30 176.1V176.7M943.70 186.7V187.3M946.10 194.3V197.5M947.30 194.8V195.6M947.90 192.8V194.8M950.90 198.4V200.1M951.50 195.4V198.4M952.10 188.8V195.4M952.70 185.5V188.8M953.90 184.7V186.1M954.50 182.5V184.7M955.10 181.9V182.5M955.70 177.7V181.9M956.30 168.9V177.7M959.30 191.1V191.7M959.90 190.5V191.1M961.10 187.2V191.8M961.70 182.1V187.2M962.90 183.5V187.1M963.50 180.5V183.5M964.10 178.0V180.5M964.70 177.4V178.0M965.90 178.1V179.0M968.90 184.8V190.5M971.60 142.9V145.2M974.00 152.8V158.0M974.60 148.8V152.8M975.80 142.9V149.9M977.00 141.8V144.6M977.60 140.0V141.8M978.20 138.3V140.0M978.80 136.1V138.3M979.40 132.1V136.1M980.00 131.2V132.1M980.60 126.2V131.2M981.20 125.6V126.2M981.80 117.8V125.6M982.40 117.2V117.8M984.80 124.6V128.2M986.20 132.8V133.8M988.00 134.8V135.8M989.20 134.7V136.2M992.20 138.5V141.8M995.20 148.7V149.3M995.80 144.7V148.7M996.40 137.3V144.7M997.00 128.2V137.3M997.60 120.5V128.2M998.20 115.7V120.5M999.40 117.2V118.0M1000.60 118.6V119.7M1001.20 118.0V118.6M1003.60 129.3V131.9M1004.20 119.7V129.3M1004.80 112.7V119.7M1005.40 112.1V112.7M1006.00 111.2V112.1M1007.20 111.0V111.8M1007.80 108.8V111.0M1008.40 106.1V108.8M1009.00 103.1V106.1M1011.40 108.5V112.7M1012.00 107.2V108.5M1013.80 110.0V110.6M1015.00 109.0V117.9M1020.70 128.2V129.6M1021.30 124.8V128.2M1021.90 122.8V124.8M1023.10 122.1V123.9M1026.10 125.3V129.6M1027.30 124.8V126.3M1027.90 116.3V124.8M1028.50 115.6V116.3M1029.10 114.5V115.6M1030.30 113.9V117.6M1030.90 112.7V113.9M1031.90 93.9V94.7M1034.30 104.8V106.2M1035.50 103.3V106.1M1036.10 99.7V103.3M1037.90 102.6V104.3M1038.50 98.2V102.6M1040.90 104.7V105.9M1041.50 102.8V104.7M1042.10 98.3V102.8M1044.50 105.4V108.0M1045.10 104.8V105.4M1045.70 99.5V104.8M1046.90 100.6V104.5M1047.50 97.2V100.6M1048.10 93.9V97.2M1050.50 105.8V107.2M1052.30 105.3V108.7M1052.90 102.4V105.3M1053.50 98.4V102.4M1055.30 104.2V105.6M1055.90 99.5V104.2M1058.10 110.0V111.8M1058.70 109.4V110.0M1060.50 118.5V119.9M1062.00 136.7V140.0M1063.20 128.6V138.1M1065.00 134.2V134.8M1065.60 130.9V134.2M1066.80 130.3V131.5M1067.40 129.7V130.3M1068.00 129.1V129.7M1068.60 123.0V129.1M1069.20 121.1V123.0M1070.40 119.5V121.7M1071.60 122.5V124.8M1072.20 121.9V122.5M1072.80 120.7V121.9M1074.60 120.8V129.7M1076.40 136.6V138.3M1077.90 99.6V106.4M1078.50 96.9V99.6M1079.10 95.1V96.9M1080.90 95.0V99.1M1082.10 96.7V97.3M1083.90 94.1V98.7M1084.50 93.5V94.1M1089.90 115.6V117.8M1091.70 120.8V121.7M1092.30 115.1V120.8M1092.90 114.5V115.1M1095.90 115.8V120.1M1096.50 109.4V115.8M1097.10 108.4V109.4M1097.70 106.1V108.4M1098.30 103.8V106.1M1101.30 107.6V110.9M1103.10 119.3V122.9M1104.30 118.7V119.9M1106.10 121.3V128.6M1106.70 116.3V121.3M1107.30 101.6V116.3M1109.70 123.9V127.6M1110.30 120.9V123.9M1112.10 124.0V127.8M1112.70 122.8V124.0M1114.50 126.0V127.5M1115.10 122.8V126.0M1115.70 115.8V122.8M1116.30 111.1V115.8M1116.90 108.0V111.1M1117.50 104.6V108.0M1118.10 102.3V104.6M1118.70 97.5V102.3M1119.30 95.8V97.5M1119.90 92.2V95.8M1120.50 88.7V92.2M1121.10 83.7V88.7M1121.70 82.1V83.7M1124.10 90.7V91.5M1124.70 87.9V90.7M1128.30 95.6V101.2M1129.50 99.8V101.1M1130.10 95.9V99.8M1130.70 94.1V95.9M1131.30 88.8V94.1M1134.30 104.0V105.5M1136.70 112.2V112.8M1139.10 114.3V118.3M1139.70 109.0V114.3M1140.30 106.3V109.0M1140.90 105.7V106.3M1143.90 106.2V116.2M1144.50 99.3V106.2M1145.10 95.5V99.3M1146.30 93.5V98.0M1146.90 92.3V93.5M1147.50 90.1V92.3M1148.10 85.8V90.1M1152.30 101.5V102.2M1152.90 99.1V101.5M1153.50 97.6V99.1M1155.30 104.5V106.9M1155.90 100.8V104.5M1156.50 98.5V100.8M1157.10 97.3V98.5M1158.30 97.7V99.6M1158.90 97.1V97.7M1160.70 98.8V102.1M1161.30 98.2V98.8M1163.10 100.9V102.1M1166.10 118.5V124.4M1166.70 114.8V118.5M1167.30 109.9V114.8M1169.10 101.7V102.3M1169.70 100.3V101.7M1170.30 97.6V100.3M1170.90 94.3V97.6M1172.10 91.0V94.9M1175.10 98.7V99.5M1175.70 98.1V98.7M1177.50 101.7V102.3M1178.10 97.9V101.7M1179.30 91.4V99.1M1179.90 86.3V91.4M1181.10 87.2V87.8M1181.70 81.9V87.2M1185.00 112.9V114.1M1185.60 111.2V112.9M1186.20 108.6V111.2M1186.80 108.0V108.6M1187.40 105.2V108.0M1189.20 107.1V110.2M1190.40 107.8V110.1M1192.20 104.3V112.2M1194.60 131.2V136.4M1195.20 129.8V131.2M1195.80 128.6V129.8M1196.40 127.9V128.6M1198.20 127.1V130.1M1198.80 123.3V127.1M1200.00 123.6V124.6M1200.60 120.5V123.6M1201.20 118.1V120.5M1202.40 118.9V120.0M1203.00 115.0V118.9M1203.60 114.2V115.0M1204.20 112.2V114.2M1204.80 109.5V112.2M1206.00 109.0V111.1M1206.60 107.5V109.0M1207.80 106.4V108.1M1209.60 114.1V117.1M1210.20 110.7V114.1M1210.80 108.7V110.7M1211.40 107.3V108.7M1212.00 106.7V107.3M1212.80 86.0V87.2M1214.00 72.8V86.6M1215.80 79.4V83.2M1216.40 76.8V79.4M1219.40 79.6V81.1M1220.00 78.6V79.6M1221.20 77.5V79.2M1224.80 84.6V89.5M1226.00 80.0V85.3M1226.60 79.3V80.0M1228.60 58.2V63.0M1229.20 57.6V58.2M1229.80 55.4V57.6M1230.40 50.1V55.4M1231.00 41.6V50.1M1231.60 41.0V41.6M1232.80 39.8V43.9M1234.60 44.3V45.5M1235.80 45.7V48.1M1241.80 66.6V70.3M1242.40 62.1V66.6M1247.20 80.2V81.1M1247.80 79.1V80.2M1248.40 77.7V79.1M1250.20 78.4V80.7M1250.80 76.5V78.4M1251.40 75.6V76.5M1253.20 74.0V77.7M1253.80 73.4V74.0M1255.00 74.6V75.8M1255.60 68.9V74.6M1256.20 65.1V68.9M1259.20 79.2V80.9M1260.40 82.8V86.7M1261.00 80.1V82.8M1261.60 79.5V80.1M1262.20 77.7V79.5M1262.80 76.8V77.7M1264.60 73.3V82.2M1265.80 72.7V76.3M1266.40 72.1V72.7M1268.80 76.6V78.4M1270.00 82.1V82.7M1271.80 73.4V84.3M1273.00 73.7V77.0M1273.60 72.2V73.7" stroke="#2a862a" stroke-width="1.25" fill="none"/><path d="M0.00 670.7V672.8M0.60 672.8V678.1M1.20 678.1V680.1M2.40 676.6V682.1M3.60 681.3V686.2M4.20 686.2V688.4M6.60 669.8V672.9M7.20 672.9V678.9M7.80 678.9V681.2M8.40 681.2V688.1M9.00 688.1V689.2M9.60 689.2V691.2M10.20 691.2V695.0M10.80 695.0V703.2M11.40 703.2V710.2M12.00 710.2V712.5M12.60 712.5V716.8M13.20 716.8V718.3M13.80 718.3V723.9M14.40 723.9V733.4M15.00 733.4V739.6M16.80 728.8V729.6M17.40 729.6V731.4M19.20 720.1V720.7M19.80 720.7V722.6M20.40 722.6V723.4M21.00 723.4V730.9M25.80 690.1V691.9M26.40 691.9V703.0M27.60 700.3V706.9M30.00 689.6V692.3M31.80 681.4V682.8M33.00 682.2V686.3M33.60 686.3V691.0M39.00 668.0V671.1M39.60 671.1V674.4M40.20 674.4V677.8M40.80 677.8V678.4M41.40 678.4V685.0M42.00 685.0V689.4M43.80 683.8V684.7M45.00 683.6V687.5M47.40 670.6V671.2M49.80 666.5V673.2M50.40 673.2V680.2M51.00 680.2V683.0M51.60 683.0V683.7M52.20 683.7V689.3M52.80 689.3V692.1M57.40 714.4V719.9M58.00 719.9V727.9M60.40 717.2V727.4M61.00 727.4V730.6M61.60 730.6V732.3M62.20 732.3V736.6M66.40 701.3V708.6M67.00 708.6V714.1M69.40 708.3V715.3M70.00 715.3V717.6M70.60 717.6V719.3M74.80 691.7V694.0M75.40 694.0V698.8M76.00 698.8V702.6M77.20 702.0V702.9M77.80 702.9V708.4M78.40 708.4V720.3M80.80 698.9V702.8M81.40 702.8V707.0M82.00 707.0V710.5M82.60 710.5V715.9M83.20 715.9V722.2M83.80 722.2V729.4M86.80 701.1V702.9M87.40 702.9V703.5M88.00 703.5V704.1M89.20 703.3V704.2M89.80 704.2V704.8M92.20 699.9V701.0M92.80 701.0V706.8M94.60 703.5V707.8M95.20 707.8V710.4M95.80 710.4V714.0M96.40 714.0V723.6M97.00 723.6V728.4M98.20 722.7V724.9M102.40 692.4V697.0M103.60 694.1V699.3M104.20 699.3V699.9M105.40 692.6V693.4M106.00 693.4V694.6M106.60 694.6V696.0M107.80 693.0V695.0M108.40 695.0V701.4M109.00 701.4V702.3M112.00 696.4V697.0M113.20 692.4V697.7M113.80 697.7V699.4M116.20 677.2V677.8M116.80 677.8V683.5M117.40 683.5V688.9M118.00 688.9V689.6M118.60 689.6V691.8M120.40 689.8V696.6M121.60 692.7V693.7M122.20 693.7V696.0M127.00 659.2V663.5M127.60 663.5V665.4M128.20 665.4V667.9M130.00 657.1V660.9M130.60 660.9V663.5M136.20 593.6V594.6M136.80 594.6V599.8M138.00 596.4V597.9M139.20 593.7V597.8M139.80 597.8V598.4M140.40 598.4V599.0M141.60 594.4V602.8M144.00 588.6V598.2M144.60 598.2V608.1M147.00 582.9V584.7M147.60 584.7V587.1M148.20 587.1V589.1M148.80 589.1V591.4M150.00 590.5V592.5M150.60 592.5V595.2M151.20 595.2V596.1M151.80 596.1V598.9M155.40 571.9V574.6M156.60 571.0V576.9M157.20 576.9V585.3M158.40 583.4V587.7M159.00 587.7V589.6M161.40 583.6V584.4M162.00 584.4V589.9M162.60 589.9V591.6M163.20 591.6V592.3M163.80 592.3V597.7M165.00 596.6V597.2M165.60 597.2V603.8M168.00 601.3V604.7M169.80 596.1V600.6M171.00 597.1V597.7M171.60 597.7V599.6M172.80 597.5V603.9M173.40 603.9V608.2M175.20 604.0V605.0M175.80 605.0V605.6M176.40 605.6V608.7M177.00 608.7V611.6M177.60 611.6V619.0M179.40 609.6V611.0M180.60 610.3V614.6M181.20 614.6V615.2M181.80 615.2V617.0M182.40 617.0V619.4M187.20 603.8V606.9M189.60 594.8V595.4M190.20 595.4V601.9M190.80 601.9V605.7M191.40 605.7V609.8M193.20 606.0V610.1M193.80 610.1V613.6M194.40 613.6V617.2M195.00 617.2V618.6M198.00 599.8V600.4M203.40 566.3V569.9M204.00 569.9V576.1M204.60 576.1V578.6M206.40 574.2V575.3M207.00 575.3V580.1M208.80 571.5V574.3M211.80 557.7V560.6M212.40 560.6V565.7M213.60 558.8V562.3M216.00 552.9V554.1M217.80 548.8V553.8M218.40 553.8V558.1M219.00 558.1V560.1M220.80 543.2V546.4M221.40 546.4V561.4M222.60 558.6V562.0M223.20 562.0V566.1M223.80 566.1V570.9M224.40 570.9V575.1M226.20 568.0V571.9M226.80 571.9V578.8M227.40 578.8V579.4M228.00 579.4V580.2M230.40 567.5V570.6M232.20 566.8V572.2M232.80 572.2V576.1M233.40 576.1V582.4M234.00 582.4V592.8M239.40 555.7V557.5M240.00 557.5V560.1M240.60 560.1V566.4M241.80 557.2V560.9M242.40 560.9V563.7M243.00 563.7V567.1M243.60 567.1V570.5M244.20 570.5V571.2M246.60 563.9V566.2M247.20 566.2V566.8M253.20 538.0V538.6M256.20 524.2V525.8M256.80 525.8V530.6M258.70 528.7V530.1M264.70 476.5V477.1M270.10 447.6V455.4M270.70 455.4V457.8M275.50 436.7V437.3M276.70 435.9V440.2M277.30 440.2V447.3M280.90 433.7V439.1M282.10 421.2V422.0M283.90 415.3V419.3M285.10 417.0V420.9M286.30 419.1V420.0M288.10 416.3V421.2M288.70 421.2V421.9M291.70 405.1V409.5M292.30 409.5V411.6M292.90 411.6V412.3M293.50 412.3V414.0M294.10 414.0V420.1M294.70 420.1V422.3M295.30 422.3V425.4M296.80 413.4V414.0M302.20 383.2V386.0M302.80 386.0V386.6M303.40 386.6V389.2M304.00 389.2V393.3M307.00 386.6V389.0M307.60 389.0V390.7M309.40 385.0V388.0M310.00 388.0V390.0M310.60 390.0V391.0M311.80 389.1V391.5M312.40 391.5V396.7M313.00 396.7V397.3M314.80 390.2V391.9M316.60 390.0V393.4M317.20 393.4V396.4M317.80 396.4V400.8M319.00 397.9V403.3M319.60 403.3V404.3M320.80 403.6V404.2M323.20 396.8V398.9M325.00 393.1V398.7M326.80 392.7V395.6M329.80 384.4V386.8M332.20 385.0V385.8M333.40 385.0V390.3M334.00 390.3V395.0M335.20 389.5V392.9M335.80 392.9V394.0M338.20 389.0V391.2M340.00 388.0V389.3M340.60 389.3V393.9M342.30 382.0V382.9M342.90 382.9V384.9M345.90 372.2V374.1M346.50 374.1V376.4M347.70 375.4V377.4M348.90 373.4V377.3M349.50 377.3V378.3M350.70 375.2V375.8M352.50 367.3V370.0M353.10 370.0V374.3M354.30 372.9V378.3M355.50 374.8V378.5M356.10 378.5V379.9M358.50 372.0V372.6M359.10 372.6V376.4M360.30 374.0V379.9M362.10 374.6V375.5M365.10 369.9V370.7M366.30 369.3V372.8M367.50 366.0V368.1M369.30 366.5V367.1M369.90 367.1V370.3M371.10 367.3V370.7M372.30 367.2V370.0M372.90 370.0V371.8M374.10 371.2V372.0M377.70 361.5V362.1M378.30 362.1V364.5M378.90 364.5V365.1M380.70 363.8V365.4M381.90 363.1V367.5M382.50 367.5V368.1M387.30 355.7V358.3M388.50 357.7V359.4M389.10 359.4V362.6M389.70 362.6V367.4M390.30 367.4V368.8M390.90 368.8V369.9M391.50 369.9V371.7M393.30 364.5V368.0M393.90 368.0V369.0M397.50 363.3V368.2M398.70 366.7V370.4M399.90 367.3V367.9M400.50 367.9V370.6M401.70 369.3V375.3M403.80 384.1V387.4M406.20 380.2V382.6M407.40 381.2V382.8M408.00 382.8V383.4M408.60 383.4V384.0M409.20 384.0V384.6M411.60 381.4V382.0M413.40 379.5V382.1M414.60 380.1V380.7M417.60 370.6V371.2M418.20 365.0V366.6M421.20 324.8V325.9M421.80 325.9V326.5M423.60 324.5V330.6M424.20 330.6V332.4M424.80 332.4V333.0M427.80 321.3V322.5M429.00 319.9V326.5M429.60 326.5V329.0M432.00 315.3V319.6M432.60 319.6V320.2M436.20 309.4V311.1M437.40 308.2V310.7M442.20 299.3V299.9M442.80 299.9V301.8M443.40 301.8V304.2M444.00 304.2V307.1M445.20 305.3V311.1M448.00 289.8V290.4M451.00 271.3V272.0M451.60 272.0V276.9M453.40 273.7V277.1M454.60 276.4V277.0M455.20 277.0V278.5M455.80 278.5V279.6M456.40 279.6V281.7M457.60 278.4V279.7M458.20 279.7V282.7M458.80 282.7V286.7M462.40 258.6V259.2M464.80 244.8V247.7M465.40 247.7V254.0M466.00 254.0V258.4M467.20 254.6V255.2M469.00 252.3V255.5M471.40 252.0V254.8M472.00 254.8V256.1M473.20 251.0V255.2M475.60 248.4V256.9M476.80 255.8V257.2M478.00 251.9V256.7M479.20 254.1V255.1M481.00 244.1V244.7M481.60 244.7V246.5M482.80 243.6V249.2M485.20 245.6V248.1M487.00 244.2V245.3M491.20 227.9V229.9M494.20 211.4V216.5M495.40 213.0V219.8M496.60 216.8V219.1M498.40 212.0V212.8M499.60 206.2V209.8M501.40 205.7V208.3M506.20 169.3V170.4M506.80 170.4V178.3M508.00 175.5V180.4M510.00 197.4V198.4M510.60 198.4V203.5M513.60 192.7V194.6M514.80 192.5V197.1M515.40 197.1V198.3M517.20 197.1V198.0M519.60 192.9V195.4M520.20 195.4V197.4M521.40 191.4V194.7M523.20 189.3V193.0M526.80 175.4V176.0M528.00 174.5V179.4M528.60 179.4V181.4M529.80 180.8V183.7M530.40 183.7V186.9M531.00 186.9V188.1M533.40 181.5V182.9M536.40 160.2V165.2M538.20 155.7V159.8M538.80 159.8V161.0M540.00 159.8V162.5M541.80 155.1V157.1M542.40 157.1V158.9M543.00 158.9V163.2M544.20 162.6V164.3M547.80 153.1V159.9M548.40 159.9V160.5M549.00 160.5V161.1M551.40 151.2V154.5M553.80 142.3V143.3M555.00 141.5V144.4M555.60 144.4V145.4M558.00 139.8V144.2M558.60 144.2V152.1M559.20 152.1V156.6M560.40 156.0V158.5M561.00 158.5V159.1M562.20 155.0V156.8M564.60 143.0V154.2M565.80 150.7V153.7M567.00 147.8V149.4M568.20 148.1V150.1M569.40 148.4V149.0M571.20 141.0V141.7M572.40 140.4V142.1M573.00 142.1V144.9M573.60 144.9V148.3M574.20 148.3V149.2M576.00 143.0V146.0M576.60 146.0V146.6M577.20 146.6V149.0M579.00 142.8V143.4M579.60 143.4V148.2M580.80 146.8V147.8M581.40 147.8V148.4M582.00 148.4V151.8M582.60 151.8V153.8M583.20 153.8V159.2M584.20 93.2V93.8M584.80 93.8V103.3M585.40 103.3V108.0M586.00 108.0V112.5M586.60 112.5V118.5M587.20 118.5V126.1M589.00 120.9V127.3M589.60 127.3V127.9M590.20 127.9V133.9M592.60 126.2V131.6M594.40 122.2V129.5M595.00 129.5V142.7M595.60 142.7V152.3M596.20 152.3V158.9M596.80 158.9V174.2M597.40 174.2V183.0M599.70 141.5V145.4M603.30 126.1V126.9M604.50 126.3V133.5M605.10 133.5V137.3M605.70 137.3V139.0M606.30 139.0V143.2M606.90 143.2V149.7M607.50 149.7V153.9M608.10 153.9V160.3M608.70 160.3V165.7M609.30 165.7V168.0M609.90 168.0V168.6M612.90 159.5V160.1M614.70 180.7V183.4M617.10 166.8V168.7M617.70 168.7V172.0M619.50 169.1V172.2M620.70 171.6V177.6M621.90 175.5V178.9M623.10 178.3V181.9M624.30 181.1V181.8M625.50 180.3V185.2M626.10 185.2V190.8M627.30 187.3V193.9M631.50 170.2V173.7M632.70 171.4V173.7M633.30 173.7V174.3M634.50 168.9V172.3M635.70 168.7V172.3M636.90 167.6V168.5M637.50 168.5V169.1M638.70 168.4V172.8M641.70 163.8V166.0M642.90 164.2V166.6M645.90 153.0V162.5M646.50 162.5V176.7M648.30 166.6V167.5M648.90 167.5V170.4M650.70 165.5V167.0M652.50 164.8V167.2M653.70 162.3V162.9M654.90 154.4V161.9M655.50 161.9V163.9M656.10 163.9V168.5M657.90 165.7V167.1M658.50 167.1V167.7M659.20 179.9V181.2M661.00 176.3V177.9M661.60 177.9V181.5M662.20 181.5V185.1M662.80 185.1V185.7M663.40 185.7V187.2M664.00 187.2V192.2M664.60 192.2V194.8M665.80 191.7V194.1M666.40 194.1V196.4M670.60 172.9V176.0M671.20 176.0V182.1M671.80 182.1V184.7M672.40 184.7V185.4M674.20 180.0V185.4M674.80 185.4V186.2M677.80 178.1V182.7M679.00 181.4V182.4M680.20 181.1V181.8M680.80 181.8V182.9M683.20 177.9V178.9M684.40 175.9V176.7M686.20 167.4V168.0M686.80 168.0V168.9M687.40 168.9V172.7M689.20 170.2V173.1M689.80 173.1V173.7M691.60 158.3V161.9M692.20 161.9V169.7M695.20 161.6V162.2M695.80 162.2V168.3M697.00 162.1V163.0M698.80 157.5V160.0M700.00 155.3V161.5M700.60 161.5V165.2M701.80 162.2V167.7M702.40 167.7V169.7M703.60 168.7V170.2M706.00 154.1V155.3M706.60 155.3V157.8M707.20 157.8V163.2M707.80 163.2V165.3M708.40 165.3V169.9M709.60 166.5V171.6M710.20 171.6V172.6M710.80 172.6V173.5M712.60 169.2V173.4M713.20 173.4V178.5M715.60 170.4V172.8M718.00 167.5V171.2M718.60 171.2V173.5M719.20 173.5V178.1M720.40 160.6V162.5M721.00 162.5V164.5M722.80 160.2V161.7M723.40 161.7V163.0M725.20 160.7V162.4M725.80 162.4V165.9M727.00 162.2V162.8M727.60 162.8V163.4M731.70 108.3V109.5M732.30 109.5V121.2M732.90 121.2V131.0M733.50 131.0V131.6M734.10 131.6V138.2M734.70 138.2V143.4M735.30 143.4V164.0M735.90 164.0V168.5M736.50 168.5V171.8M737.10 171.8V177.8M737.70 177.8V179.6M738.30 179.6V186.4M741.90 162.3V163.2M743.10 157.5V158.6M745.50 153.0V158.8M746.10 158.8V161.9M746.70 161.9V163.2M747.30 163.2V168.9M747.90 168.9V181.6M748.50 181.6V190.4M749.70 187.7V189.1M750.90 188.5V199.1M752.10 198.0V199.9M752.70 199.9V201.5M753.30 201.5V202.9M754.50 194.1V208.0M755.10 208.0V218.3M755.70 218.3V218.9M756.30 218.9V223.0M756.90 223.0V223.6M757.50 223.6V231.5M758.10 231.5V234.0M760.70 203.0V203.6M761.30 203.6V208.4M761.90 208.4V209.2M763.70 207.8V212.6M764.90 210.7V211.9M766.10 211.3V218.3M766.70 218.3V219.1M767.30 219.1V219.9M767.90 219.9V221.8M769.10 220.6V221.3M769.70 221.3V221.9M770.90 208.5V210.8M772.10 209.8V210.4M775.60 222.0V222.6M776.80 222.0V228.4M777.40 228.4V230.0M778.00 230.0V232.9M778.60 232.9V236.3M779.20 236.3V238.2M782.20 234.0V236.7M782.80 236.7V237.3M787.60 191.0V195.9M788.80 195.3V197.9M789.40 197.9V199.3M790.00 199.3V202.9M790.60 202.9V206.7M791.20 206.7V214.2M792.40 213.0V217.9M794.80 205.4V206.0M796.00 201.3V202.3M796.60 202.3V203.8M798.40 195.9V197.7M803.80 173.2V173.8M806.20 163.4V178.1M806.80 178.1V182.0M807.40 182.0V188.9M809.20 177.1V178.8M809.80 178.8V181.5M810.40 181.5V185.5M811.00 185.5V192.5M811.60 192.5V193.3M813.40 186.5V188.7M814.00 188.7V193.1M814.60 193.1V200.8M816.40 193.8V195.4M820.00 176.4V178.1M820.60 178.1V181.5M821.20 181.5V182.5M823.60 163.2V168.8M824.20 168.8V169.4M824.80 169.4V172.3M825.40 172.3V175.6M826.00 175.6V179.3M826.60 179.3V182.1M829.00 174.2V181.2M829.60 181.2V182.5M830.20 182.5V183.1M831.40 179.3V180.4M832.00 180.4V181.0M832.60 181.0V183.8M833.20 183.8V184.4M835.20 154.1V154.7M837.00 142.0V147.2M837.60 147.2V154.3M838.20 154.3V158.0M838.80 158.0V160.4M839.40 160.4V166.4M840.00 166.4V168.5M840.60 168.5V170.2M841.80 167.2V170.9M844.20 163.4V169.4M844.80 169.4V177.3M845.40 177.3V182.5M846.60 181.9V183.7M847.20 183.7V192.4M847.80 192.4V201.8M848.40 201.8V207.2M849.00 207.2V214.3M849.90 187.1V187.7M850.50 187.7V188.3M852.30 172.3V173.6M852.90 173.6V176.6M853.50 176.6V178.6M854.10 178.6V180.4M854.70 180.4V181.0M855.30 181.0V181.6M855.90 181.6V182.4M856.50 182.4V184.5M857.10 184.5V187.2M857.70 187.2V191.6M858.30 191.6V193.0M863.10 165.8V172.7M863.70 172.7V176.0M864.30 176.0V178.6M866.10 169.0V171.0M866.70 171.0V171.6M867.30 171.6V181.3M867.90 181.3V181.9M868.50 181.9V183.7M869.70 182.3V185.4M870.90 184.6V186.6M872.10 184.8V186.4M872.70 186.4V187.1M873.30 187.1V190.8M873.90 190.8V194.3M874.50 194.3V197.4M876.30 193.6V202.4M879.30 189.3V193.4M879.90 193.4V197.0M880.60 236.0V238.2M883.60 218.4V219.2M884.20 219.2V228.3M885.40 227.3V229.5M886.00 229.5V230.1M889.60 209.8V214.7M890.20 214.7V222.0M891.40 221.4V226.0M892.00 226.0V226.6M894.40 210.5V211.1M895.60 209.4V212.5M896.20 251.6V252.3M897.40 251.7V261.0M898.00 261.0V264.4M900.40 254.8V257.3M901.00 257.3V258.4M901.60 258.4V261.4M903.40 254.6V256.5M904.00 256.5V258.2M905.20 255.9V261.0M905.80 261.0V265.9M906.40 265.9V267.1M907.00 267.1V267.9M910.60 248.8V249.4M913.60 236.7V237.6M914.20 237.6V238.9M919.00 215.3V220.9M920.20 220.0V223.2M922.00 219.1V221.1M924.40 211.0V211.6M926.80 191.0V193.5M927.40 193.5V197.3M928.00 197.3V202.9M928.60 202.9V206.1M931.00 193.5V197.7M931.60 197.7V198.4M932.80 194.4V199.9M933.40 199.9V204.1M934.60 199.8V201.9M935.20 201.9V202.5M935.80 202.5V210.9M936.40 210.9V217.1M937.00 217.1V217.7M937.60 217.7V223.2M939.40 216.0V216.6M940.60 216.0V217.3M941.90 176.1V179.8M942.50 179.8V185.0M943.10 185.0V187.3M944.30 186.7V188.8M944.90 188.8V192.2M945.50 192.2V197.5M946.70 194.3V195.6M948.50 192.8V194.8M949.10 194.8V196.4M949.70 196.4V197.0M950.30 197.0V200.1M953.30 185.5V186.1M956.90 168.9V176.1M957.50 176.1V183.8M958.10 183.8V190.9M958.70 190.9V191.7M960.50 190.5V191.8M962.30 182.1V187.1M965.30 177.4V179.0M966.50 178.1V181.8M967.10 181.8V183.0M967.70 183.0V188.7M968.30 188.7V190.5M969.50 184.8V185.5M970.10 185.5V187.2M970.70 187.2V193.8M972.20 142.9V152.2M972.80 152.2V156.9M973.40 156.9V158.0M975.20 148.8V149.9M976.40 142.9V144.6M983.00 117.2V121.6M983.60 121.6V124.0M984.20 124.0V128.2M985.40 124.6V125.5M986.80 132.8V134.6M987.40 134.6V135.8M988.60 134.8V136.2M989.80 134.7V136.3M990.40 136.3V140.3M991.00 140.3V140.9M991.60 140.9V141.8M992.80 138.5V141.5M993.40 141.5V142.5M994.00 142.5V147.5M994.60 147.5V149.3M998.80 115.7V118.0M1000.00 117.2V119.7M1001.80 118.0V124.6M1002.40 124.6V129.7M1003.00 129.7V131.9M1006.60 111.2V111.8M1009.60 103.1V104.8M1010.20 104.8V107.8M1010.80 107.8V112.7M1012.60 107.2V108.5M1013.20 108.5V110.6M1014.40 110.0V117.9M1015.60 109.0V109.6M1016.50 114.3V115.0M1017.10 115.0V115.6M1017.70 115.6V117.2M1018.30 117.2V117.8M1018.90 117.8V121.8M1019.50 121.8V127.6M1020.10 127.6V129.6M1022.50 122.8V123.9M1023.70 122.1V126.3M1024.30 126.3V128.1M1024.90 128.1V129.0M1025.50 129.0V129.6M1026.70 125.3V126.3M1029.70 114.5V117.6M1032.50 93.9V97.3M1033.10 97.3V100.8M1033.70 100.8V106.2M1034.90 104.8V106.1M1036.70 99.7V103.7M1037.30 103.7V104.3M1039.10 98.2V100.0M1039.70 100.0V105.1M1040.30 105.1V105.9M1042.70 98.3V100.5M1043.30 100.5V101.9M1043.90 101.9V108.0M1046.30 99.5V104.5M1048.70 93.9V102.0M1049.30 102.0V104.0M1049.90 104.0V107.2M1051.10 105.8V107.4M1051.70 107.4V108.7M1054.10 98.4V103.3M1054.70 103.3V105.6M1056.50 99.5V100.6M1057.10 100.6V102.0M1059.30 109.4V116.0M1059.90 116.0V119.9M1061.10 118.5V122.1M1062.60 136.7V138.1M1063.80 128.6V129.2M1064.40 129.2V134.8M1066.20 130.9V131.5M1069.80 121.1V121.7M1071.00 119.5V124.8M1073.40 120.7V122.3M1074.00 122.3V129.7M1075.20 120.8V126.2M1075.80 126.2V138.3M1077.30 105.8V106.4M1079.70 95.1V97.0M1080.30 97.0V99.1M1081.50 95.0V97.3M1082.70 96.7V98.1M1083.30 98.1V98.7M1085.10 93.5V94.2M1085.70 94.2V98.9M1086.30 98.9V101.4M1086.90 101.4V104.4M1087.50 104.4V105.6M1088.10 105.6V112.0M1088.70 112.0V114.3M1089.30 114.3V117.8M1090.50 115.6V116.2M1091.10 116.2V121.7M1093.50 114.5V115.6M1094.10 115.6V117.2M1094.70 117.2V119.5M1095.30 119.5V120.1M1098.90 103.8V105.6M1099.50 105.6V107.0M1100.10 107.0V107.9M1100.70 107.9V110.9M1101.90 107.6V120.8M1102.50 120.8V122.9M1103.70 119.3V119.9M1104.90 118.7V125.5M1105.50 125.5V128.6M1107.90 101.6V106.4M1108.50 106.4V108.4M1109.10 108.4V127.6M1110.90 120.9V122.6M1111.50 122.6V127.8M1113.30 122.8V123.9M1113.90 123.9V127.5M1122.30 82.1V85.4M1122.90 85.4V89.5M1123.50 89.5V91.5M1125.30 87.9V91.6M1125.90 91.6V93.4M1126.50 93.4V96.2M1127.10 96.2V100.3M1127.70 100.3V101.2M1128.90 95.6V101.1M1131.90 88.8V92.1M1132.50 92.1V93.0M1133.10 93.0V100.0M1133.70 100.0V105.5M1134.90 104.0V104.6M1135.50 104.6V110.0M1136.10 110.0V112.8M1137.30 112.2V113.1M1137.90 113.1V116.7M1138.50 116.7V118.3M1141.50 105.7V108.4M1142.10 108.4V109.5M1142.70 109.5V111.9M1143.30 111.9V116.2M1145.70 95.5V98.0M1148.70 85.8V89.4M1149.30 89.4V92.8M1149.90 92.8V93.9M1150.50 93.9V97.2M1151.10 97.2V99.6M1151.70 99.6V102.2M1154.10 97.6V104.4M1154.70 104.4V106.9M1157.70 97.3V99.6M1159.50 97.1V101.5M1160.10 101.5V102.1M1161.90 98.2V100.5M1162.50 100.5V102.1M1163.70 100.9V106.6M1164.30 106.6V112.6M1164.90 112.6V120.4M1165.50 120.4V124.4M1167.90 100.5V101.1M1168.50 101.1V102.3M1171.50 94.3V94.9M1172.70 91.0V92.9M1173.30 92.9V93.5M1173.90 93.5V96.4M1174.50 96.4V99.5M1176.30 98.1V99.3M1176.90 99.3V102.3M1178.70 97.9V99.1M1180.50 86.3V87.8M1182.30 81.9V84.7M1183.20 96.2V96.8M1183.80 96.8V105.1M1184.40 105.1V114.1M1188.00 105.2V109.3M1188.60 109.3V110.2M1189.80 107.1V110.1M1191.00 107.8V111.5M1191.60 111.5V112.2M1192.80 104.3V118.5M1193.40 118.5V135.2M1194.00 135.2V136.4M1197.00 127.9V129.5M1197.60 129.5V130.1M1199.40 123.3V124.6M1201.80 118.1V120.0M1205.40 109.5V111.1M1207.20 107.5V108.1M1208.40 106.4V112.6M1209.00 112.6V117.1M1213.40 86.0V86.6M1214.60 72.8V76.3M1215.20 76.3V83.2M1217.00 76.8V77.7M1217.60 77.7V78.3M1218.20 78.3V80.0M1218.80 80.0V81.1M1220.60 78.6V79.2M1221.80 77.5V78.9M1222.40 78.9V82.6M1223.00 82.6V83.8M1223.60 83.8V88.0M1224.20 88.0V89.5M1225.40 84.6V85.3M1227.20 79.3V81.2M1228.00 60.8V63.0M1232.20 41.0V43.9M1233.40 39.8V43.4M1234.00 43.4V45.5M1235.20 44.3V48.1M1236.40 45.7V49.2M1237.00 49.2V54.7M1237.60 54.7V55.9M1238.20 55.9V56.8M1238.80 56.8V61.7M1239.40 61.7V64.7M1240.00 64.7V65.3M1240.60 65.3V68.7M1241.20 68.7V70.3M1243.00 62.1V62.9M1243.60 62.9V69.2M1244.20 69.2V69.8M1244.80 69.8V72.3M1245.40 72.3V74.2M1246.00 74.2V77.5M1246.60 77.5V81.1M1249.00 77.7V79.2M1249.60 79.2V80.7M1252.00 75.6V76.2M1252.60 76.2V77.7M1254.40 73.4V75.8M1256.80 65.1V68.4M1257.40 68.4V70.8M1258.00 70.8V71.4M1258.60 71.4V80.9M1259.80 79.2V86.7M1263.40 76.8V78.0M1264.00 78.0V82.2M1265.20 73.3V76.3M1267.00 72.1V72.9M1267.60 72.9V76.5M1268.20 76.5V78.4M1269.40 76.6V82.7M1270.60 82.1V82.9M1271.20 82.9V84.3M1272.40 73.4V77.0" stroke="#d01818" stroke-width="1.25" fill="none"/><rect x="581.7" y="88.5" width="736.8" height="59.9" fill="rgb(50,120,240)" fill-opacity="0.2"/><path d="M1319.5 0V804" stroke="#d8d8d8" stroke-width="1"/><path d="M1320 38.5H1324M1320 93.5H1324M1320 148.5H1324M1320 203.5H1324M1320 258.5H1324M1320 313.5H1324M1320 367.5H1324M1320 422.5H1324M1320 477.5H1324M1320 532.5H1324M1320 587.5H1324M1320 642.5H1324M1320 697.5H1324M1320 752.5H1324" stroke="#999" stroke-width="1"/><text x="1329" y="41.9" font-size="12" fill="#999">17.200,00</text><text x="1329" y="96.9" font-size="12" fill="#999">17.000,00</text><text x="1329" y="151.9" font-size="12" fill="#999">16.800,00</text><text x="1329" y="206.9" font-size="12" fill="#999">16.600,00</text><text x="1329" y="261.9" font-size="12" fill="#999">16.400,00</text><text x="1329" y="316.9" font-size="12" fill="#999">16.200,00</text><text x="1329" y="370.9" font-size="12" fill="#999">16.000,00</text><text x="1329" y="425.9" font-size="12" fill="#999">15.800,00</text><text x="1329" y="480.9" font-size="12" fill="#999">15.600,00</text><text x="1329" y="535.9" font-size="12" fill="#999">15.400,00</text><text x="1329" y="590.9" font-size="12" fill="#999">15.200,00</text><text x="1329" y="645.9" font-size="12" fill="#999">15.000,00</text><text x="1329" y="700.9" font-size="12" fill="#999">14.800,00</text><text x="1329" y="755.9" font-size="12" fill="#999">14.600,00</text><path d="M10.5 801V804M85.5 801V804M115.5 801V804M161.5 801V804M236.5 801V804M312.5 801V804M387.5 801V804M448.5 801V804M539.5 801V804M614.5 801V804M690.5 801V804M729.5 801V804M790.5 801V804M865.5 801V804M941.5 801V804M1017.5 801V804M1062.5 801V804M1092.5 801V804M1168.5 801V804M1243.5 801V804" stroke="#555" stroke-width="1"/><text x="10.5" y="798" font-size="12" fill="#444" text-anchor="middle">23</text><text x="85.5" y="798" font-size="12" fill="#444" text-anchor="middle">30</text><text x="115.5" y="798" font-size="12" fill="#444" text-anchor="middle">Nov</text><text x="161.5" y="798" font-size="12" fill="#444" text-anchor="middle">6</text><text x="236.5" y="798" font-size="12" fill="#444" text-anchor="middle">13</text><text x="312.5" y="798" font-size="12" fill="#444" text-anchor="middle">20</text><text x="387.5" y="798" font-size="12" fill="#444" text-anchor="middle">27</text><text x="448.5" y="798" font-size="12" fill="#444" text-anchor="middle">Dez</text><text x="539.5" y="798" font-size="12" fill="#444" text-anchor="middle">11</text><text x="614.5" y="798" font-size="12" fill="#444" text-anchor="middle">18</text><text x="690.5" y="798" font-size="12" fill="#444" text-anchor="middle">27</text><text x="729.5" y="798" font-size="12" fill="#444" text-anchor="middle">Jan '24</text><text x="790.5" y="798" font-size="12" fill="#444" text-anchor="middle">8</text><text x="865.5" y="798" font-size="12" fill="#444" text-anchor="middle">15</text><text x="941.5" y="798" font-size="12" fill="#444" text-anchor="middle">22</text><text x="1017.5" y="798" font-size="12" fill="#444" text-anchor="middle">29</text><text x="1062.5" y="798" font-size="12" fill="#444" text-anchor="middle">Feb</text><text x="1092.5" y="798" font-size="12" fill="#444" text-anchor="middle">5</text><text x="1168.5" y="798" font-size="12" fill="#444" text-anchor="middle">12</text><text x="1243.5" y="798" font-size="12" fill="#444" text-anchor="middle">19</text><path d="M1320 75.3L1329 66H1389V84.6H1329Z" fill="#ef5b5b"/><text x="1330" y="79.6" font-size="12" font-weight="bold" fill="#222">17.068,43</text><g fill="none" stroke="#ef5350" stroke-width="1"><path d="M7.5 9.2V9.8M7.5 13.8V17.8M11.5 7.4V11.4M11.5 15.6V18.1M15.6 9.2V13.4M15.6 17.5V18.1"/><rect x="6.3" y="9.8" width="2.4" height="4"/><rect x="10.3" y="11.4" width="2.4" height="4.2"/><rect x="14.4" y="13.4" width="2.4" height="4.1"/></g><text x="23.5" y="16.2" font-size="11" fill="#ef5350" xml:space="preserve">DAX (XETRA, Last)  O: 17.068,43  H: 17.068,43  L: 17.068,43  C: 17.068,43</text><g fill="none" stroke="#333" stroke-width="1.1"><circle cx="12.5" cy="28.6" r="5"/><path d="M12.4 25.6V28.8L14.6 30.8"/></g><text x="23.5" y="32.4" font-size="11" fill="#444" xml:space="preserve">20.10.2023 12:00 - 20.02.2024 17:45   (4 Monate, 15 Minuten)</text><text x="800.2" y="56" font-size="41.2" fill="#000" letter-spacing="0.28">Droht ein Rücklauf</text><text transform="translate(1144.8 56) scale(1.0 1.07)" font-size="41.2" fill="#000">?</text><path d="M1278 89L1299 128" stroke="#ff4013" stroke-width="5.5"/><path d="M1285.7 132.5L1307.8 121.3L1307.8 148.6Z" fill="#ff4013"/><text x="8" y="779.1" font-size="22" font-weight="bold" font-style="italic" fill="#c8202a" stroke="#c8202a" stroke-width="0.8" letter-spacing="0.6">DAX live</text><text x="29" y="785.5" font-size="4.7" font-weight="bold" fill="#222" letter-spacing="1.25">by Andreas Bernstein</text><path d="M105.3 763L134.5 766L134 784.1L104.8 783.7Z" fill="#c8202a" stroke="#c8202a" stroke-width="3" stroke-linejoin="round"/><path d="M109.6 767.8L129.6 766.5L130 782.9L110.2 782.2Z" fill="#fff" stroke="#fff" stroke-width="2" stroke-linejoin="round"/><path d="M115.3 771.2L123.2 775L115.8 779Z" fill="#c8202a" stroke="#c8202a" stroke-width="0.8" stroke-linejoin="round"/><g fill="#252c33"><path d="M151.5 758.4H157.8V780Q157.8 788.8 149 788.8H144.7V782.6H149Q151.5 782.6 151.5 780Z"/><path d="M162.5 758.4H182.7V764.3H168.6V770.8H178.7V776.5H168.6V788.8H162.5Z"/><rect x="186.8" y="758.4" width="1" height="30.4"/><rect x="185.3" y="769" width="4.1" height="9.5"/><path d="M190 758.4H196Q209.2 758.4 209.2 773.6Q209.2 788.8 196 788.8H190V782.8H196Q203 782.8 203 773.6Q203 764.4 196 764.4H190Z"/></g><text x="144" y="801.7" font-size="12.3" fill="#767b80" letter-spacing="0.72">BROKERS</text></svg></body></html>
